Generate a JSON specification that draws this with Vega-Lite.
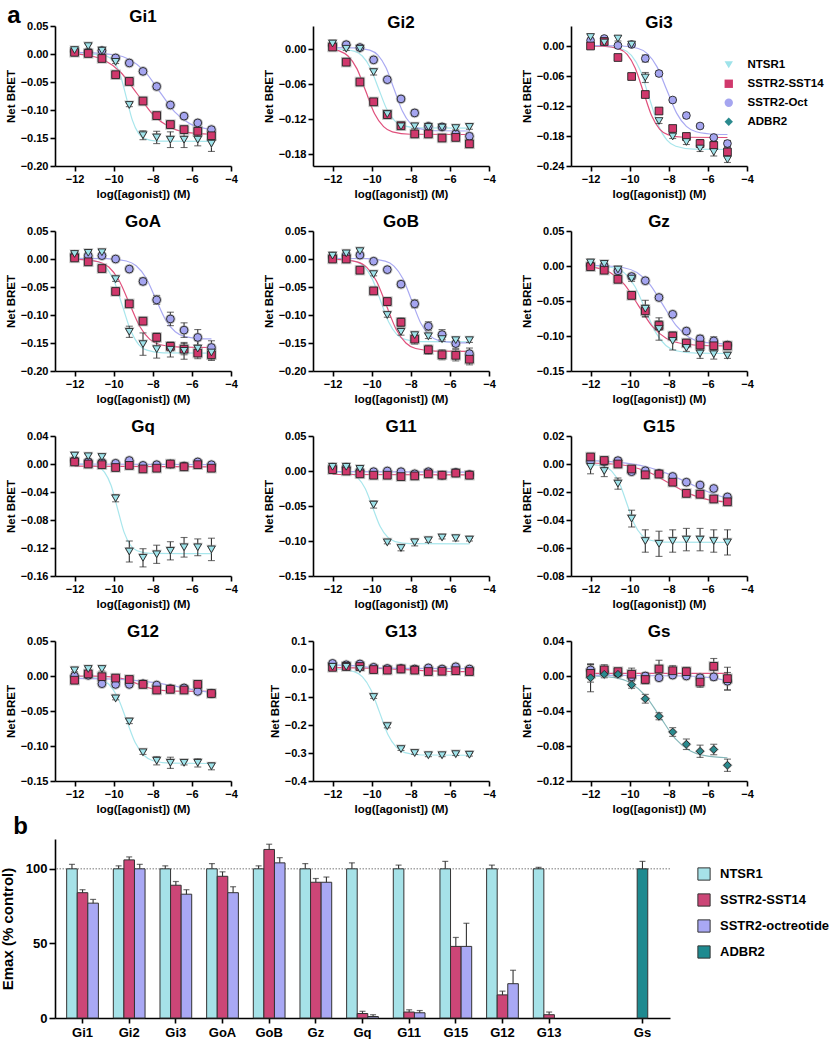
{
"$schema":"https://vega.github.io/schema/vega-lite/v6.json",
"padding":{"left":0,"top":4,"right":0,"bottom":0},
"config":{"font":"Liberation Sans","view":{"stroke":null},
"axis":{"labelFont":"Liberation Sans","labelFontWeight":"bold","labelFontSize":11,"labelColor":"#000","titleFont":"Liberation Sans","titleFontWeight":"bold","titleFontSize":11.5,"titleColor":"#000","domainColor":"#000","domainWidth":1.6,"tickColor":"#000","tickWidth":1.6,"tickSize":5,"grid":false,"labelPadding":2,"titlePadding":4,"labelFlush":false,"labelOverlap":false},
"title":{"font":"Liberation Sans","fontSize":17,"fontWeight":"bold","color":"#000","offset":-6},
"line":{"strokeWidth":1.2,"interpolate":"monotone"}},
"data":{"values":[
{"p":"Gi1","s":"NTSR1","c":1,"x":-12,"y":0},{"p":"Gi1","s":"NTSR1","c":1,"x":-10.91,"y":-0.0005},{"p":"Gi1","s":"NTSR1","c":1,"x":-10.29,"y":-0.0048},{"p":"Gi1","s":"NTSR1","c":1,"x":-9.98,"y":-0.0142},{"p":"Gi1","s":"NTSR1","c":1,"x":-9.66,"y":-0.0374},{"p":"Gi1","s":"NTSR1","c":1,"x":-9.35,"y":-0.078},{"p":"Gi1","s":"NTSR1","c":1,"x":-9.04,"y":-0.1186},{"p":"Gi1","s":"NTSR1","c":1,"x":-8.73,"y":-0.1418},{"p":"Gi1","s":"NTSR1","c":1,"x":-8.41,"y":-0.1512},{"p":"Gi1","s":"NTSR1","c":1,"x":-7.79,"y":-0.1555},{"p":"Gi1","s":"NTSR1","c":1,"x":-5,"y":-0.156},
{"p":"Gi1","s":"SSTR2-SST14","c":1,"x":-12,"y":0.0002},{"p":"Gi1","s":"SSTR2-SST14","c":1,"x":-11.3,"y":-0.0025},{"p":"Gi1","s":"SSTR2-SST14","c":1,"x":-10.47,"y":-0.0113},{"p":"Gi1","s":"SSTR2-SST14","c":1,"x":-9.63,"y":-0.033},{"p":"Gi1","s":"SSTR2-SST14","c":1,"x":-8.8,"y":-0.071},{"p":"Gi1","s":"SSTR2-SST14","c":1,"x":-7.97,"y":-0.109},{"p":"Gi1","s":"SSTR2-SST14","c":1,"x":-7.13,"y":-0.1307},{"p":"Gi1","s":"SSTR2-SST14","c":1,"x":-6.3,"y":-0.1395},{"p":"Gi1","s":"SSTR2-SST14","c":1,"x":-5,"y":-0.1433},
{"p":"Gi1","s":"SSTR2-Oct","c":1,"x":-12,"y":0.0028},{"p":"Gi1","s":"SSTR2-Oct","c":1,"x":-11.5,"y":0.0026},{"p":"Gi1","s":"SSTR2-Oct","c":1,"x":-9.96,"y":-0.0013},{"p":"Gi1","s":"SSTR2-Oct","c":1,"x":-9.19,"y":-0.0097},{"p":"Gi1","s":"SSTR2-Oct","c":1,"x":-8.42,"y":-0.0306},{"p":"Gi1","s":"SSTR2-Oct","c":1,"x":-7.65,"y":-0.067},{"p":"Gi1","s":"SSTR2-Oct","c":1,"x":-6.88,"y":-0.1034},{"p":"Gi1","s":"SSTR2-Oct","c":1,"x":-6.11,"y":-0.1243},{"p":"Gi1","s":"SSTR2-Oct","c":1,"x":-5.34,"y":-0.1327},{"p":"Gi1","s":"SSTR2-Oct","c":1,"x":-5,"y":-0.1343},
{"p":"Gi2","s":"NTSR1","c":1,"x":-12,"y":0.001},{"p":"Gi2","s":"NTSR1","c":1,"x":-11.73,"y":0.0006},{"p":"Gi2","s":"NTSR1","c":1,"x":-10.9,"y":-0.0032},{"p":"Gi2","s":"NTSR1","c":1,"x":-10.48,"y":-0.0114},{"p":"Gi2","s":"NTSR1","c":1,"x":-10.07,"y":-0.0316},{"p":"Gi2","s":"NTSR1","c":1,"x":-9.65,"y":-0.067},{"p":"Gi2","s":"NTSR1","c":1,"x":-9.23,"y":-0.1024},{"p":"Gi2","s":"NTSR1","c":1,"x":-8.82,"y":-0.1226},{"p":"Gi2","s":"NTSR1","c":1,"x":-8.4,"y":-0.1308},{"p":"Gi2","s":"NTSR1","c":1,"x":-7.57,"y":-0.1346},{"p":"Gi2","s":"NTSR1","c":1,"x":-5,"y":-0.135},
{"p":"Gi2","s":"SSTR2-SST14","c":1,"x":-12,"y":0},{"p":"Gi2","s":"SSTR2-SST14","c":1,"x":-11.66,"y":-0.0026},{"p":"Gi2","s":"SSTR2-SST14","c":1,"x":-11.21,"y":-0.0115},{"p":"Gi2","s":"SSTR2-SST14","c":1,"x":-10.75,"y":-0.0335},{"p":"Gi2","s":"SSTR2-SST14","c":1,"x":-10.3,"y":-0.072},{"p":"Gi2","s":"SSTR2-SST14","c":1,"x":-9.85,"y":-0.1105},{"p":"Gi2","s":"SSTR2-SST14","c":1,"x":-9.39,"y":-0.1325},{"p":"Gi2","s":"SSTR2-SST14","c":1,"x":-8.94,"y":-0.1414},{"p":"Gi2","s":"SSTR2-SST14","c":1,"x":-8.03,"y":-0.1456},{"p":"Gi2","s":"SSTR2-SST14","c":1,"x":-5,"y":-0.146},
{"p":"Gi2","s":"SSTR2-Oct","c":1,"x":-12,"y":0.003},{"p":"Gi2","s":"SSTR2-Oct","c":1,"x":-10.93,"y":0.0026},{"p":"Gi2","s":"SSTR2-Oct","c":1,"x":-10.1,"y":-0.0014},{"p":"Gi2","s":"SSTR2-Oct","c":1,"x":-9.68,"y":-0.01},{"p":"Gi2","s":"SSTR2-Oct","c":1,"x":-9.27,"y":-0.0313},{"p":"Gi2","s":"SSTR2-Oct","c":1,"x":-8.85,"y":-0.0685},{"p":"Gi2","s":"SSTR2-Oct","c":1,"x":-8.43,"y":-0.1057},{"p":"Gi2","s":"SSTR2-Oct","c":1,"x":-8.02,"y":-0.127},{"p":"Gi2","s":"SSTR2-Oct","c":1,"x":-7.6,"y":-0.1356},{"p":"Gi2","s":"SSTR2-Oct","c":1,"x":-6.77,"y":-0.1396},{"p":"Gi2","s":"SSTR2-Oct","c":1,"x":-5,"y":-0.14},
{"p":"Gi3","s":"NTSR1","c":1,"x":-12,"y":0},{"p":"Gi3","s":"NTSR1","c":1,"x":-11.27,"y":-0.0006},{"p":"Gi3","s":"NTSR1","c":1,"x":-10.36,"y":-0.0064},{"p":"Gi3","s":"NTSR1","c":1,"x":-9.91,"y":-0.0188},{"p":"Gi3","s":"NTSR1","c":1,"x":-9.45,"y":-0.0497},{"p":"Gi3","s":"NTSR1","c":1,"x":-9,"y":-0.1035},{"p":"Gi3","s":"NTSR1","c":1,"x":-8.55,"y":-0.1573},{"p":"Gi3","s":"NTSR1","c":1,"x":-8.09,"y":-0.1882},{"p":"Gi3","s":"NTSR1","c":1,"x":-7.64,"y":-0.2006},{"p":"Gi3","s":"NTSR1","c":1,"x":-6.73,"y":-0.2064},{"p":"Gi3","s":"NTSR1","c":1,"x":-5,"y":-0.207},
{"p":"Gi3","s":"SSTR2-SST14","c":1,"x":-12,"y":0},{"p":"Gi3","s":"SSTR2-SST14","c":1,"x":-11.38,"y":-0.0005},{"p":"Gi3","s":"SSTR2-SST14","c":1,"x":-10.55,"y":-0.0057},{"p":"Gi3","s":"SSTR2-SST14","c":1,"x":-10.13,"y":-0.0167},{"p":"Gi3","s":"SSTR2-SST14","c":1,"x":-9.72,"y":-0.0439},{"p":"Gi3","s":"SSTR2-SST14","c":1,"x":-9.3,"y":-0.0915},{"p":"Gi3","s":"SSTR2-SST14","c":1,"x":-8.88,"y":-0.1391},{"p":"Gi3","s":"SSTR2-SST14","c":1,"x":-8.47,"y":-0.1663},{"p":"Gi3","s":"SSTR2-SST14","c":1,"x":-8.05,"y":-0.1773},{"p":"Gi3","s":"SSTR2-SST14","c":1,"x":-7.22,"y":-0.1825},{"p":"Gi3","s":"SSTR2-SST14","c":1,"x":-5,"y":-0.183},
{"p":"Gi3","s":"SSTR2-Oct","c":1,"x":-12,"y":0.001},{"p":"Gi3","s":"SSTR2-Oct","c":1,"x":-10.6,"y":0.0005},{"p":"Gi3","s":"SSTR2-Oct","c":1,"x":-9.6,"y":-0.0045},{"p":"Gi3","s":"SSTR2-Oct","c":1,"x":-9.1,"y":-0.0152},{"p":"Gi3","s":"SSTR2-Oct","c":1,"x":-8.6,"y":-0.0417},{"p":"Gi3","s":"SSTR2-Oct","c":1,"x":-8.1,"y":-0.088},{"p":"Gi3","s":"SSTR2-Oct","c":1,"x":-7.6,"y":-0.1343},{"p":"Gi3","s":"SSTR2-Oct","c":1,"x":-7.1,"y":-0.1608},{"p":"Gi3","s":"SSTR2-Oct","c":1,"x":-6.6,"y":-0.1715},{"p":"Gi3","s":"SSTR2-Oct","c":1,"x":-5.6,"y":-0.1765},{"p":"Gi3","s":"SSTR2-Oct","c":1,"x":-5,"y":-0.177},
{"p":"GoA","s":"NTSR1","c":1,"x":-12,"y":0},{"p":"GoA","s":"NTSR1","c":1,"x":-11.63,"y":-0.0005},{"p":"GoA","s":"NTSR1","c":1,"x":-10.8,"y":-0.0052},{"p":"GoA","s":"NTSR1","c":1,"x":-10.38,"y":-0.0153},{"p":"GoA","s":"NTSR1","c":1,"x":-9.97,"y":-0.0403},{"p":"GoA","s":"NTSR1","c":1,"x":-9.55,"y":-0.084},{"p":"GoA","s":"NTSR1","c":1,"x":-9.13,"y":-0.1277},{"p":"GoA","s":"NTSR1","c":1,"x":-8.72,"y":-0.1527},{"p":"GoA","s":"NTSR1","c":1,"x":-8.3,"y":-0.1628},{"p":"GoA","s":"NTSR1","c":1,"x":-7.47,"y":-0.1675},{"p":"GoA","s":"NTSR1","c":1,"x":-5,"y":-0.168},
{"p":"GoA","s":"SSTR2-SST14","c":1,"x":-12,"y":-0.0003},{"p":"GoA","s":"SSTR2-SST14","c":1,"x":-10.78,"y":-0.0049},{"p":"GoA","s":"SSTR2-SST14","c":1,"x":-10.25,"y":-0.0144},{"p":"GoA","s":"SSTR2-SST14","c":1,"x":-9.73,"y":-0.0379},{"p":"GoA","s":"SSTR2-SST14","c":1,"x":-9.2,"y":-0.079},{"p":"GoA","s":"SSTR2-SST14","c":1,"x":-8.67,"y":-0.1201},{"p":"GoA","s":"SSTR2-SST14","c":1,"x":-8.15,"y":-0.1436},{"p":"GoA","s":"SSTR2-SST14","c":1,"x":-7.62,"y":-0.1531},{"p":"GoA","s":"SSTR2-SST14","c":1,"x":-6.57,"y":-0.1575},{"p":"GoA","s":"SSTR2-SST14","c":1,"x":-5,"y":-0.158},
{"p":"GoA","s":"SSTR2-Oct","c":1,"x":-12,"y":0.001},{"p":"GoA","s":"SSTR2-Oct","c":1,"x":-10.35,"y":0.0006},{"p":"GoA","s":"SSTR2-Oct","c":1,"x":-9.35,"y":-0.0035},{"p":"GoA","s":"SSTR2-Oct","c":1,"x":-8.85,"y":-0.0121},{"p":"GoA","s":"SSTR2-Oct","c":1,"x":-8.35,"y":-0.0336},{"p":"GoA","s":"SSTR2-Oct","c":1,"x":-7.85,"y":-0.071},{"p":"GoA","s":"SSTR2-Oct","c":1,"x":-7.35,"y":-0.1084},{"p":"GoA","s":"SSTR2-Oct","c":1,"x":-6.85,"y":-0.1299},{"p":"GoA","s":"SSTR2-Oct","c":1,"x":-6.35,"y":-0.1385},{"p":"GoA","s":"SSTR2-Oct","c":1,"x":-5.35,"y":-0.1426},{"p":"GoA","s":"SSTR2-Oct","c":1,"x":-5,"y":-0.1428},
{"p":"GoB","s":"NTSR1","c":1,"x":-12,"y":0},{"p":"GoB","s":"NTSR1","c":1,"x":-11.63,"y":-0.0004},{"p":"GoB","s":"NTSR1","c":1,"x":-10.8,"y":-0.0046},{"p":"GoB","s":"NTSR1","c":1,"x":-10.38,"y":-0.0135},{"p":"GoB","s":"NTSR1","c":1,"x":-9.97,"y":-0.0355},{"p":"GoB","s":"NTSR1","c":1,"x":-9.55,"y":-0.074},{"p":"GoB","s":"NTSR1","c":1,"x":-9.13,"y":-0.1125},{"p":"GoB","s":"NTSR1","c":1,"x":-8.72,"y":-0.1345},{"p":"GoB","s":"NTSR1","c":1,"x":-8.3,"y":-0.1434},{"p":"GoB","s":"NTSR1","c":1,"x":-7.47,"y":-0.1476},{"p":"GoB","s":"NTSR1","c":1,"x":-5,"y":-0.148},
{"p":"GoB","s":"SSTR2-SST14","c":1,"x":-12,"y":-0.0003},{"p":"GoB","s":"SSTR2-SST14","c":1,"x":-10.75,"y":-0.0051},{"p":"GoB","s":"SSTR2-SST14","c":1,"x":-10.25,"y":-0.015},{"p":"GoB","s":"SSTR2-SST14","c":1,"x":-9.75,"y":-0.0396},{"p":"GoB","s":"SSTR2-SST14","c":1,"x":-9.25,"y":-0.0825},{"p":"GoB","s":"SSTR2-SST14","c":1,"x":-8.75,"y":-0.1254},{"p":"GoB","s":"SSTR2-SST14","c":1,"x":-8.25,"y":-0.15},{"p":"GoB","s":"SSTR2-SST14","c":1,"x":-7.75,"y":-0.1599},{"p":"GoB","s":"SSTR2-SST14","c":1,"x":-6.75,"y":-0.1645},{"p":"GoB","s":"SSTR2-SST14","c":1,"x":-5,"y":-0.165},
{"p":"GoB","s":"SSTR2-Oct","c":1,"x":-12,"y":0.001},{"p":"GoB","s":"SSTR2-Oct","c":1,"x":-10.22,"y":0.0005},{"p":"GoB","s":"SSTR2-Oct","c":1,"x":-9.31,"y":-0.0037},{"p":"GoB","s":"SSTR2-Oct","c":1,"x":-8.86,"y":-0.0127},{"p":"GoB","s":"SSTR2-Oct","c":1,"x":-8.4,"y":-0.0352},{"p":"GoB","s":"SSTR2-Oct","c":1,"x":-7.95,"y":-0.0745},{"p":"GoB","s":"SSTR2-Oct","c":1,"x":-7.5,"y":-0.1138},{"p":"GoB","s":"SSTR2-Oct","c":1,"x":-7.04,"y":-0.1363},{"p":"GoB","s":"SSTR2-Oct","c":1,"x":-6.59,"y":-0.1453},{"p":"GoB","s":"SSTR2-Oct","c":1,"x":-5.68,"y":-0.1495},{"p":"GoB","s":"SSTR2-Oct","c":1,"x":-5,"y":-0.1499},
{"p":"Gz","s":"NTSR1","c":1,"x":-12,"y":0.0007},{"p":"Gz","s":"NTSR1","c":1,"x":-10.78,"y":-0.0029},{"p":"Gz","s":"NTSR1","c":1,"x":-10.25,"y":-0.0105},{"p":"Gz","s":"NTSR1","c":1,"x":-9.73,"y":-0.0292},{"p":"Gz","s":"NTSR1","c":1,"x":-9.2,"y":-0.062},{"p":"Gz","s":"NTSR1","c":1,"x":-8.67,"y":-0.0948},{"p":"Gz","s":"NTSR1","c":1,"x":-8.15,"y":-0.1135},{"p":"Gz","s":"NTSR1","c":1,"x":-7.62,"y":-0.1211},{"p":"Gz","s":"NTSR1","c":1,"x":-6.57,"y":-0.1246},{"p":"Gz","s":"NTSR1","c":1,"x":-5,"y":-0.125},
{"p":"Gz","s":"SSTR2-SST14","c":1,"x":-12,"y":-0.0012},{"p":"Gz","s":"SSTR2-SST14","c":1,"x":-11.69,"y":-0.0026},{"p":"Gz","s":"SSTR2-SST14","c":1,"x":-10.98,"y":-0.0095},{"p":"Gz","s":"SSTR2-SST14","c":1,"x":-10.26,"y":-0.0266},{"p":"Gz","s":"SSTR2-SST14","c":1,"x":-9.55,"y":-0.0565},{"p":"Gz","s":"SSTR2-SST14","c":1,"x":-8.84,"y":-0.0864},{"p":"Gz","s":"SSTR2-SST14","c":1,"x":-8.12,"y":-0.1035},{"p":"Gz","s":"SSTR2-SST14","c":1,"x":-7.41,"y":-0.1104},{"p":"Gz","s":"SSTR2-SST14","c":1,"x":-5.98,"y":-0.1139},{"p":"Gz","s":"SSTR2-SST14","c":1,"x":-5,"y":-0.114},
{"p":"Gz","s":"SSTR2-Oct","c":1,"x":-12,"y":0.0008},{"p":"Gz","s":"SSTR2-Oct","c":1,"x":-11.63,"y":0.0007},{"p":"Gz","s":"SSTR2-Oct","c":1,"x":-10.3,"y":-0.0025},{"p":"Gz","s":"SSTR2-Oct","c":1,"x":-9.63,"y":-0.0093},{"p":"Gz","s":"SSTR2-Oct","c":1,"x":-8.97,"y":-0.0261},{"p":"Gz","s":"SSTR2-Oct","c":1,"x":-8.3,"y":-0.0555},{"p":"Gz","s":"SSTR2-Oct","c":1,"x":-7.63,"y":-0.0849},{"p":"Gz","s":"SSTR2-Oct","c":1,"x":-6.97,"y":-0.1017},{"p":"Gz","s":"SSTR2-Oct","c":1,"x":-6.3,"y":-0.1085},{"p":"Gz","s":"SSTR2-Oct","c":1,"x":-5,"y":-0.1117},
{"p":"Gq","s":"NTSR1","c":1,"x":-12,"y":-0.0002},{"p":"Gq","s":"NTSR1","c":1,"x":-11.47,"y":-0.0004},{"p":"Gq","s":"NTSR1","c":1,"x":-10.8,"y":-0.004},{"p":"Gq","s":"NTSR1","c":1,"x":-10.47,"y":-0.0116},{"p":"Gq","s":"NTSR1","c":1,"x":-10.13,"y":-0.0307},{"p":"Gq","s":"NTSR1","c":1,"x":-9.8,"y":-0.064},{"p":"Gq","s":"NTSR1","c":1,"x":-9.47,"y":-0.0973},{"p":"Gq","s":"NTSR1","c":1,"x":-9.13,"y":-0.1164},{"p":"Gq","s":"NTSR1","c":1,"x":-8.8,"y":-0.124},{"p":"Gq","s":"NTSR1","c":1,"x":-8.13,"y":-0.1276},{"p":"Gq","s":"NTSR1","c":1,"x":-5,"y":-0.128},
{"p":"Gq","s":"SSTR2-SST14","c":1,"x":-12,"y":-0.003},{"p":"Gq","s":"SSTR2-SST14","c":1,"x":-5,"y":-0.004},
{"p":"Gq","s":"SSTR2-Oct","c":1,"x":-12,"y":0},{"p":"Gq","s":"SSTR2-Oct","c":1,"x":-5,"y":-0.001},
{"p":"G11","s":"NTSR1","c":1,"x":-12,"y":-0.0004},{"p":"G11","s":"NTSR1","c":1,"x":-11.1,"y":-0.0032},{"p":"G11","s":"NTSR1","c":1,"x":-10.72,"y":-0.0095},{"p":"G11","s":"NTSR1","c":1,"x":-10.33,"y":-0.025},{"p":"G11","s":"NTSR1","c":1,"x":-9.95,"y":-0.052},{"p":"G11","s":"NTSR1","c":1,"x":-9.57,"y":-0.079},{"p":"G11","s":"NTSR1","c":1,"x":-9.18,"y":-0.0945},{"p":"G11","s":"NTSR1","c":1,"x":-8.8,"y":-0.1008},{"p":"G11","s":"NTSR1","c":1,"x":-8.03,"y":-0.1037},{"p":"G11","s":"NTSR1","c":1,"x":-5,"y":-0.104},
{"p":"G11","s":"SSTR2-SST14","c":1,"x":-12,"y":-0.005},{"p":"G11","s":"SSTR2-SST14","c":1,"x":-5,"y":-0.0055},
{"p":"G11","s":"SSTR2-Oct","c":1,"x":-12,"y":-0.001},{"p":"G11","s":"SSTR2-Oct","c":1,"x":-5,"y":-0.0015},
{"p":"G15","s":"NTSR1","c":1,"x":-12,"y":-0.0002},{"p":"G15","s":"NTSR1","c":1,"x":-11.3,"y":-0.0017},{"p":"G15","s":"NTSR1","c":1,"x":-10.92,"y":-0.0051},{"p":"G15","s":"NTSR1","c":1,"x":-10.53,"y":-0.0134},{"p":"G15","s":"NTSR1","c":1,"x":-10.15,"y":-0.028},{"p":"G15","s":"NTSR1","c":1,"x":-9.77,"y":-0.0426},{"p":"G15","s":"NTSR1","c":1,"x":-9.38,"y":-0.0509},{"p":"G15","s":"NTSR1","c":1,"x":-9,"y":-0.0543},{"p":"G15","s":"NTSR1","c":1,"x":-8.23,"y":-0.0558},{"p":"G15","s":"NTSR1","c":1,"x":-5,"y":-0.056},
{"p":"G15","s":"SSTR2-SST14","c":1,"x":-12,"y":0.0007},{"p":"G15","s":"SSTR2-SST14","c":1,"x":-11,"y":0.0001},{"p":"G15","s":"SSTR2-SST14","c":1,"x":-10,"y":-0.0016},{"p":"G15","s":"SSTR2-SST14","c":1,"x":-9,"y":-0.006},{"p":"G15","s":"SSTR2-SST14","c":1,"x":-8,"y":-0.0135},{"p":"G15","s":"SSTR2-SST14","c":1,"x":-7,"y":-0.021},{"p":"G15","s":"SSTR2-SST14","c":1,"x":-6,"y":-0.0254},{"p":"G15","s":"SSTR2-SST14","c":1,"x":-5,"y":-0.0271},
{"p":"G15","s":"SSTR2-Oct","c":1,"x":-12,"y":0.0024},{"p":"G15","s":"SSTR2-Oct","c":1,"x":-11,"y":0.0017},{"p":"G15","s":"SSTR2-Oct","c":1,"x":-10,"y":0.0003},{"p":"G15","s":"SSTR2-Oct","c":1,"x":-9,"y":-0.0025},{"p":"G15","s":"SSTR2-Oct","c":1,"x":-8,"y":-0.0072},{"p":"G15","s":"SSTR2-Oct","c":1,"x":-7,"y":-0.0135},{"p":"G15","s":"SSTR2-Oct","c":1,"x":-6,"y":-0.0198},{"p":"G15","s":"SSTR2-Oct","c":1,"x":-5,"y":-0.0245},
{"p":"G12","s":"NTSR1","c":1,"x":-12,"y":-0.0002},{"p":"G12","s":"NTSR1","c":1,"x":-10.71,"y":-0.0039},{"p":"G12","s":"NTSR1","c":1,"x":-10.26,"y":-0.0114},{"p":"G12","s":"NTSR1","c":1,"x":-9.8,"y":-0.03},{"p":"G12","s":"NTSR1","c":1,"x":-9.35,"y":-0.0625},{"p":"G12","s":"NTSR1","c":1,"x":-8.9,"y":-0.095},{"p":"G12","s":"NTSR1","c":1,"x":-8.44,"y":-0.1136},{"p":"G12","s":"NTSR1","c":1,"x":-7.99,"y":-0.1211},{"p":"G12","s":"NTSR1","c":1,"x":-7.08,"y":-0.1246},{"p":"G12","s":"NTSR1","c":1,"x":-5,"y":-0.125},
{"p":"G12","s":"SSTR2-SST14","c":1,"x":-12,"y":0},{"p":"G12","s":"SSTR2-SST14","c":1,"x":-11,"y":-0.0002},{"p":"G12","s":"SSTR2-SST14","c":1,"x":-10,"y":-0.0017},{"p":"G12","s":"SSTR2-SST14","c":1,"x":-9.5,"y":-0.0042},{"p":"G12","s":"SSTR2-SST14","c":1,"x":-9,"y":-0.0088},{"p":"G12","s":"SSTR2-SST14","c":1,"x":-8.5,"y":-0.0143},{"p":"G12","s":"SSTR2-SST14","c":1,"x":-8,"y":-0.0185},{"p":"G12","s":"SSTR2-SST14","c":1,"x":-7,"y":-0.0215},{"p":"G12","s":"SSTR2-SST14","c":1,"x":-5,"y":-0.022},
{"p":"G12","s":"SSTR2-Oct","c":1,"x":-12,"y":-0.0033},{"p":"G12","s":"SSTR2-Oct","c":1,"x":-10,"y":-0.0045},{"p":"G12","s":"SSTR2-Oct","c":1,"x":-8,"y":-0.0092},{"p":"G12","s":"SSTR2-Oct","c":1,"x":-7,"y":-0.0138},{"p":"G12","s":"SSTR2-Oct","c":1,"x":-6,"y":-0.0192},{"p":"G12","s":"SSTR2-Oct","c":1,"x":-5,"y":-0.0238},
{"p":"G13","s":"NTSR1","c":1,"x":-12,"y":-0.0005},{"p":"G13","s":"NTSR1","c":1,"x":-11.77,"y":-0.0009},{"p":"G13","s":"NTSR1","c":1,"x":-10.9,"y":-0.0095},{"p":"G13","s":"NTSR1","c":1,"x":-10.47,"y":-0.028},{"p":"G13","s":"NTSR1","c":1,"x":-10.04,"y":-0.0739},{"p":"G13","s":"NTSR1","c":1,"x":-9.6,"y":-0.154},{"p":"G13","s":"NTSR1","c":1,"x":-9.17,"y":-0.2341},{"p":"G13","s":"NTSR1","c":1,"x":-8.73,"y":-0.28},{"p":"G13","s":"NTSR1","c":1,"x":-8.3,"y":-0.2985},{"p":"G13","s":"NTSR1","c":1,"x":-7.43,"y":-0.3071},{"p":"G13","s":"NTSR1","c":1,"x":-5,"y":-0.308},
{"p":"G13","s":"SSTR2-SST14","c":1,"x":-12,"y":0.005},{"p":"G13","s":"SSTR2-SST14","c":1,"x":-10,"y":0.003},{"p":"G13","s":"SSTR2-SST14","c":1,"x":-9,"y":0},{"p":"G13","s":"SSTR2-SST14","c":1,"x":-8,"y":-0.003},{"p":"G13","s":"SSTR2-SST14","c":1,"x":-7,"y":-0.007},{"p":"G13","s":"SSTR2-SST14","c":1,"x":-6,"y":-0.009},{"p":"G13","s":"SSTR2-SST14","c":1,"x":-5,"y":-0.0095},
{"p":"G13","s":"SSTR2-Oct","c":1,"x":-12,"y":0.015},{"p":"G13","s":"SSTR2-Oct","c":1,"x":-11,"y":0.012},{"p":"G13","s":"SSTR2-Oct","c":1,"x":-10,"y":0.006},{"p":"G13","s":"SSTR2-Oct","c":1,"x":-9,"y":0.003},{"p":"G13","s":"SSTR2-Oct","c":1,"x":-8,"y":0.002},{"p":"G13","s":"SSTR2-Oct","c":1,"x":-5,"y":0.001},
{"p":"Gs","s":"ADBR2","c":1,"x":-12,"y":0.0005},{"p":"Gs","s":"ADBR2","c":1,"x":-10.76,"y":-0.0019},{"p":"Gs","s":"ADBR2","c":1,"x":-9.99,"y":-0.0076},{"p":"Gs","s":"ADBR2","c":1,"x":-9.22,"y":-0.0218},{"p":"Gs","s":"ADBR2","c":1,"x":-8.45,"y":-0.0465},{"p":"Gs","s":"ADBR2","c":1,"x":-7.68,"y":-0.0712},{"p":"Gs","s":"ADBR2","c":1,"x":-6.91,"y":-0.0854},{"p":"Gs","s":"ADBR2","c":1,"x":-6.14,"y":-0.0911},{"p":"Gs","s":"ADBR2","c":1,"x":-5,"y":-0.0934},
{"p":"Gs","s":"SSTR2-SST14","c":1,"x":-12,"y":0.003},{"p":"Gs","s":"SSTR2-SST14","c":1,"x":-5,"y":0.003},
{"p":"Gs","s":"SSTR2-Oct","c":1,"x":-12,"y":0.001},{"p":"Gs","s":"SSTR2-Oct","c":1,"x":-7,"y":0},{"p":"Gs","s":"SSTR2-Oct","c":1,"x":-6,"y":-0.0015},{"p":"Gs","s":"SSTR2-Oct","c":1,"x":-5.5,"y":-0.003},{"p":"Gs","s":"SSTR2-Oct","c":1,"x":-5,"y":-0.006},

{"p":"Gi1","s":"SSTR2-Oct","x":-12,"y":0.005,"e":0.003},{"p":"Gi1","s":"SSTR2-Oct","x":-11.3,"y":0.003,"e":0.002},{"p":"Gi1","s":"SSTR2-Oct","x":-10.6,"y":0.006,"e":0.003},{"p":"Gi1","s":"SSTR2-Oct","x":-9.9,"y":-0.007,"e":0.003},{"p":"Gi1","s":"SSTR2-Oct","x":-9.2,"y":-0.016,"e":0.004},{"p":"Gi1","s":"SSTR2-Oct","x":-8.5,"y":-0.031,"e":0.004},{"p":"Gi1","s":"SSTR2-Oct","x":-7.8,"y":-0.058,"e":0.004},{"p":"Gi1","s":"SSTR2-Oct","x":-7.1,"y":-0.091,"e":0.004},{"p":"Gi1","s":"SSTR2-Oct","x":-6.4,"y":-0.111,"e":0.003},{"p":"Gi1","s":"SSTR2-Oct","x":-5.7,"y":-0.123,"e":0.003},{"p":"Gi1","s":"SSTR2-Oct","x":-5,"y":-0.135,"e":0.005},
{"p":"Gi1","s":"SSTR2-SST14","x":-12,"y":0.003,"e":0.002},{"p":"Gi1","s":"SSTR2-SST14","x":-11.3,"y":0.001,"e":0.002},{"p":"Gi1","s":"SSTR2-SST14","x":-10.6,"y":-0.008,"e":0.003},{"p":"Gi1","s":"SSTR2-SST14","x":-9.9,"y":-0.037,"e":0.003},{"p":"Gi1","s":"SSTR2-SST14","x":-9.2,"y":-0.049,"e":0.003},{"p":"Gi1","s":"SSTR2-SST14","x":-8.5,"y":-0.084,"e":0.003},{"p":"Gi1","s":"SSTR2-SST14","x":-7.8,"y":-0.11,"e":0.003},{"p":"Gi1","s":"SSTR2-SST14","x":-7.1,"y":-0.126,"e":0.003},{"p":"Gi1","s":"SSTR2-SST14","x":-6.4,"y":-0.135,"e":0.005},{"p":"Gi1","s":"SSTR2-SST14","x":-5.7,"y":-0.138,"e":0.004},{"p":"Gi1","s":"SSTR2-SST14","x":-5,"y":-0.146,"e":0.006},
{"p":"Gi1","s":"NTSR1","x":-12,"y":0.007,"e":0.003},{"p":"Gi1","s":"NTSR1","x":-11.3,"y":0.014,"e":0.004},{"p":"Gi1","s":"NTSR1","x":-10.6,"y":0.006,"e":0.003},{"p":"Gi1","s":"NTSR1","x":-9.9,"y":-0.014,"e":0.003},{"p":"Gi1","s":"NTSR1","x":-9.2,"y":-0.091,"e":0.003},{"p":"Gi1","s":"NTSR1","x":-8.5,"y":-0.145,"e":0.008},{"p":"Gi1","s":"NTSR1","x":-7.8,"y":-0.149,"e":0.011},{"p":"Gi1","s":"NTSR1","x":-7.1,"y":-0.153,"e":0.014},{"p":"Gi1","s":"NTSR1","x":-6.4,"y":-0.153,"e":0.014},{"p":"Gi1","s":"NTSR1","x":-5.7,"y":-0.153,"e":0.011},{"p":"Gi1","s":"NTSR1","x":-5,"y":-0.16,"e":0.014},
{"p":"Gi2","s":"SSTR2-Oct","x":-12,"y":0.007,"e":0.003},{"p":"Gi2","s":"SSTR2-Oct","x":-11.3,"y":0.008,"e":0.003},{"p":"Gi2","s":"SSTR2-Oct","x":-10.6,"y":0.003,"e":0.003},{"p":"Gi2","s":"SSTR2-Oct","x":-9.9,"y":-0.018,"e":0.003},{"p":"Gi2","s":"SSTR2-Oct","x":-9.2,"y":-0.052,"e":0.003},{"p":"Gi2","s":"SSTR2-Oct","x":-8.5,"y":-0.085,"e":0.004},{"p":"Gi2","s":"SSTR2-Oct","x":-7.8,"y":-0.109,"e":0.005},{"p":"Gi2","s":"SSTR2-Oct","x":-7.1,"y":-0.132,"e":0.004},{"p":"Gi2","s":"SSTR2-Oct","x":-6.4,"y":-0.133,"e":0.004},{"p":"Gi2","s":"SSTR2-Oct","x":-5.7,"y":-0.145,"e":0.004},{"p":"Gi2","s":"SSTR2-Oct","x":-5,"y":-0.149,"e":0.005},
{"p":"Gi2","s":"SSTR2-SST14","x":-12,"y":0.004,"e":0.003},{"p":"Gi2","s":"SSTR2-SST14","x":-11.3,"y":-0.022,"e":0.003},{"p":"Gi2","s":"SSTR2-SST14","x":-10.6,"y":-0.056,"e":0.003},{"p":"Gi2","s":"SSTR2-SST14","x":-9.9,"y":-0.09,"e":0.003},{"p":"Gi2","s":"SSTR2-SST14","x":-9.2,"y":-0.112,"e":0.004},{"p":"Gi2","s":"SSTR2-SST14","x":-8.5,"y":-0.131,"e":0.003},{"p":"Gi2","s":"SSTR2-SST14","x":-7.8,"y":-0.145,"e":0.005},{"p":"Gi2","s":"SSTR2-SST14","x":-7.1,"y":-0.145,"e":0.004},{"p":"Gi2","s":"SSTR2-SST14","x":-6.4,"y":-0.152,"e":0.005},{"p":"Gi2","s":"SSTR2-SST14","x":-5.7,"y":-0.151,"e":0.005},{"p":"Gi2","s":"SSTR2-SST14","x":-5,"y":-0.162,"e":0.006},
{"p":"Gi2","s":"NTSR1","x":-12,"y":0.01,"e":0.004},{"p":"Gi2","s":"NTSR1","x":-11.3,"y":0.001,"e":0.003},{"p":"Gi2","s":"NTSR1","x":-10.6,"y":0.001,"e":0.003},{"p":"Gi2","s":"NTSR1","x":-9.9,"y":-0.039,"e":0.005},{"p":"Gi2","s":"NTSR1","x":-9.2,"y":-0.111,"e":0.004},{"p":"Gi2","s":"NTSR1","x":-8.5,"y":-0.132,"e":0.003},{"p":"Gi2","s":"NTSR1","x":-7.8,"y":-0.132,"e":0.004},{"p":"Gi2","s":"NTSR1","x":-7.1,"y":-0.133,"e":0.003},{"p":"Gi2","s":"NTSR1","x":-6.4,"y":-0.134,"e":0.004},{"p":"Gi2","s":"NTSR1","x":-5.7,"y":-0.135,"e":0.003},{"p":"Gi2","s":"NTSR1","x":-5,"y":-0.133,"e":0.004},
{"p":"Gi3","s":"SSTR2-Oct","x":-12,"y":0.011,"e":0.004},{"p":"Gi3","s":"SSTR2-Oct","x":-11.3,"y":0.015,"e":0.003},{"p":"Gi3","s":"SSTR2-Oct","x":-10.6,"y":0.001,"e":0.004},{"p":"Gi3","s":"SSTR2-Oct","x":-9.9,"y":0.003,"e":0.004},{"p":"Gi3","s":"SSTR2-Oct","x":-9.2,"y":-0.025,"e":0.007},{"p":"Gi3","s":"SSTR2-Oct","x":-8.5,"y":-0.055,"e":0.005},{"p":"Gi3","s":"SSTR2-Oct","x":-7.8,"y":-0.108,"e":0.004},{"p":"Gi3","s":"SSTR2-Oct","x":-7.1,"y":-0.139,"e":0.005},{"p":"Gi3","s":"SSTR2-Oct","x":-6.4,"y":-0.16,"e":0.004},{"p":"Gi3","s":"SSTR2-Oct","x":-5.7,"y":-0.183,"e":0.004},{"p":"Gi3","s":"SSTR2-Oct","x":-5,"y":-0.195,"e":0.006},
{"p":"Gi3","s":"SSTR2-SST14","x":-12,"y":0,"e":0.003},{"p":"Gi3","s":"SSTR2-SST14","x":-11.3,"y":0.009,"e":0.004},{"p":"Gi3","s":"SSTR2-SST14","x":-10.6,"y":-0.023,"e":0.004},{"p":"Gi3","s":"SSTR2-SST14","x":-9.9,"y":-0.061,"e":0.006},{"p":"Gi3","s":"SSTR2-SST14","x":-9.2,"y":-0.097,"e":0.004},{"p":"Gi3","s":"SSTR2-SST14","x":-8.5,"y":-0.13,"e":0.006},{"p":"Gi3","s":"SSTR2-SST14","x":-7.8,"y":-0.165,"e":0.005},{"p":"Gi3","s":"SSTR2-SST14","x":-7.1,"y":-0.181,"e":0.007},{"p":"Gi3","s":"SSTR2-SST14","x":-6.4,"y":-0.195,"e":0.008},{"p":"Gi3","s":"SSTR2-SST14","x":-5.7,"y":-0.199,"e":0.008},{"p":"Gi3","s":"SSTR2-SST14","x":-5,"y":-0.212,"e":0.009},
{"p":"Gi3","s":"NTSR1","x":-12,"y":0.018,"e":0.005},{"p":"Gi3","s":"NTSR1","x":-11.3,"y":0.007,"e":0.004},{"p":"Gi3","s":"NTSR1","x":-10.6,"y":0.015,"e":0.005},{"p":"Gi3","s":"NTSR1","x":-9.9,"y":0.003,"e":0.004},{"p":"Gi3","s":"NTSR1","x":-9.2,"y":-0.063,"e":0.01},{"p":"Gi3","s":"NTSR1","x":-8.5,"y":-0.15,"e":0.005},{"p":"Gi3","s":"NTSR1","x":-7.8,"y":-0.181,"e":0.004},{"p":"Gi3","s":"NTSR1","x":-7.1,"y":-0.192,"e":0.005},{"p":"Gi3","s":"NTSR1","x":-6.4,"y":-0.205,"e":0.006},{"p":"Gi3","s":"NTSR1","x":-5.7,"y":-0.212,"e":0.008},{"p":"Gi3","s":"NTSR1","x":-5,"y":-0.227,"e":0.006},
{"p":"GoA","s":"SSTR2-Oct","x":-12,"y":0.007,"e":0.003},{"p":"GoA","s":"SSTR2-Oct","x":-11.3,"y":0.006,"e":0.003},{"p":"GoA","s":"SSTR2-Oct","x":-10.6,"y":0.006,"e":0.004},{"p":"GoA","s":"SSTR2-Oct","x":-9.9,"y":0,"e":0.003},{"p":"GoA","s":"SSTR2-Oct","x":-9.2,"y":-0.018,"e":0.004},{"p":"GoA","s":"SSTR2-Oct","x":-8.5,"y":-0.04,"e":0.006},{"p":"GoA","s":"SSTR2-Oct","x":-7.8,"y":-0.073,"e":0.008},{"p":"GoA","s":"SSTR2-Oct","x":-7.1,"y":-0.107,"e":0.012},{"p":"GoA","s":"SSTR2-Oct","x":-6.4,"y":-0.127,"e":0.013},{"p":"GoA","s":"SSTR2-Oct","x":-5.7,"y":-0.14,"e":0.014},{"p":"GoA","s":"SSTR2-Oct","x":-5,"y":-0.158,"e":0.012},
{"p":"GoA","s":"SSTR2-SST14","x":-12,"y":0.002,"e":0.003},{"p":"GoA","s":"SSTR2-SST14","x":-11.3,"y":-0.005,"e":0.004},{"p":"GoA","s":"SSTR2-SST14","x":-10.6,"y":-0.017,"e":0.003},{"p":"GoA","s":"SSTR2-SST14","x":-9.9,"y":-0.058,"e":0.004},{"p":"GoA","s":"SSTR2-SST14","x":-9.2,"y":-0.08,"e":0.004},{"p":"GoA","s":"SSTR2-SST14","x":-8.5,"y":-0.111,"e":0.006},{"p":"GoA","s":"SSTR2-SST14","x":-7.8,"y":-0.14,"e":0.008},{"p":"GoA","s":"SSTR2-SST14","x":-7.1,"y":-0.156,"e":0.008},{"p":"GoA","s":"SSTR2-SST14","x":-6.4,"y":-0.161,"e":0.01},{"p":"GoA","s":"SSTR2-SST14","x":-5.7,"y":-0.168,"e":0.01},{"p":"GoA","s":"SSTR2-SST14","x":-5,"y":-0.171,"e":0.01},
{"p":"GoA","s":"NTSR1","x":-12,"y":0.009,"e":0.003},{"p":"GoA","s":"NTSR1","x":-11.3,"y":0.011,"e":0.003},{"p":"GoA","s":"NTSR1","x":-10.6,"y":0.012,"e":0.004},{"p":"GoA","s":"NTSR1","x":-9.9,"y":-0.036,"e":0.004},{"p":"GoA","s":"NTSR1","x":-9.2,"y":-0.13,"e":0.01},{"p":"GoA","s":"NTSR1","x":-8.5,"y":-0.152,"e":0.02},{"p":"GoA","s":"NTSR1","x":-7.8,"y":-0.161,"e":0.016},{"p":"GoA","s":"NTSR1","x":-7.1,"y":-0.162,"e":0.013},{"p":"GoA","s":"NTSR1","x":-6.4,"y":-0.164,"e":0.015},{"p":"GoA","s":"NTSR1","x":-5.7,"y":-0.16,"e":0.014},{"p":"GoA","s":"NTSR1","x":-5,"y":-0.167,"e":0.013},
{"p":"GoB","s":"SSTR2-Oct","x":-12,"y":0.004,"e":0.003},{"p":"GoB","s":"SSTR2-Oct","x":-11.3,"y":0.007,"e":0.003},{"p":"GoB","s":"SSTR2-Oct","x":-10.6,"y":0.007,"e":0.004},{"p":"GoB","s":"SSTR2-Oct","x":-9.9,"y":-0.004,"e":0.003},{"p":"GoB","s":"SSTR2-Oct","x":-9.2,"y":-0.019,"e":0.003},{"p":"GoB","s":"SSTR2-Oct","x":-8.5,"y":-0.045,"e":0.005},{"p":"GoB","s":"SSTR2-Oct","x":-7.8,"y":-0.08,"e":0.007},{"p":"GoB","s":"SSTR2-Oct","x":-7.1,"y":-0.12,"e":0.008},{"p":"GoB","s":"SSTR2-Oct","x":-6.4,"y":-0.135,"e":0.009},{"p":"GoB","s":"SSTR2-Oct","x":-5.7,"y":-0.151,"e":0.009},{"p":"GoB","s":"SSTR2-Oct","x":-5,"y":-0.169,"e":0.01},
{"p":"GoB","s":"SSTR2-SST14","x":-12,"y":0,"e":0.003},{"p":"GoB","s":"SSTR2-SST14","x":-11.3,"y":0,"e":0.003},{"p":"GoB","s":"SSTR2-SST14","x":-10.6,"y":-0.02,"e":0.003},{"p":"GoB","s":"SSTR2-SST14","x":-9.9,"y":-0.057,"e":0.005},{"p":"GoB","s":"SSTR2-SST14","x":-9.2,"y":-0.076,"e":0.007},{"p":"GoB","s":"SSTR2-SST14","x":-8.5,"y":-0.113,"e":0.008},{"p":"GoB","s":"SSTR2-SST14","x":-7.8,"y":-0.143,"e":0.009},{"p":"GoB","s":"SSTR2-SST14","x":-7.1,"y":-0.162,"e":0.008},{"p":"GoB","s":"SSTR2-SST14","x":-6.4,"y":-0.171,"e":0.009},{"p":"GoB","s":"SSTR2-SST14","x":-5.7,"y":-0.172,"e":0.01},{"p":"GoB","s":"SSTR2-SST14","x":-5,"y":-0.179,"e":0.01},
{"p":"GoB","s":"NTSR1","x":-12,"y":0.006,"e":0.003},{"p":"GoB","s":"NTSR1","x":-11.3,"y":0.01,"e":0.004},{"p":"GoB","s":"NTSR1","x":-10.6,"y":0.014,"e":0.005},{"p":"GoB","s":"NTSR1","x":-9.9,"y":-0.027,"e":0.003},{"p":"GoB","s":"NTSR1","x":-9.2,"y":-0.1,"e":0.004},{"p":"GoB","s":"NTSR1","x":-8.5,"y":-0.13,"e":0.006},{"p":"GoB","s":"NTSR1","x":-7.8,"y":-0.136,"e":0.005},{"p":"GoB","s":"NTSR1","x":-7.1,"y":-0.138,"e":0.004},{"p":"GoB","s":"NTSR1","x":-6.4,"y":-0.143,"e":0.004},{"p":"GoB","s":"NTSR1","x":-5.7,"y":-0.145,"e":0.004},{"p":"GoB","s":"NTSR1","x":-5,"y":-0.145,"e":0.004},
{"p":"Gz","s":"SSTR2-Oct","x":-12,"y":0.001,"e":0.003},{"p":"Gz","s":"SSTR2-Oct","x":-11.3,"y":0,"e":0.003},{"p":"Gz","s":"SSTR2-Oct","x":-10.6,"y":-0.007,"e":0.004},{"p":"Gz","s":"SSTR2-Oct","x":-9.9,"y":-0.015,"e":0.003},{"p":"Gz","s":"SSTR2-Oct","x":-9.2,"y":-0.021,"e":0.002},{"p":"Gz","s":"SSTR2-Oct","x":-8.5,"y":-0.045,"e":0.002},{"p":"Gz","s":"SSTR2-Oct","x":-7.8,"y":-0.069,"e":0.003},{"p":"Gz","s":"SSTR2-Oct","x":-7.1,"y":-0.093,"e":0.004},{"p":"Gz","s":"SSTR2-Oct","x":-6.4,"y":-0.104,"e":0.005},{"p":"Gz","s":"SSTR2-Oct","x":-5.7,"y":-0.107,"e":0.006},{"p":"Gz","s":"SSTR2-Oct","x":-5,"y":-0.113,"e":0.004},
{"p":"Gz","s":"SSTR2-SST14","x":-12,"y":-0.001,"e":0.003},{"p":"Gz","s":"SSTR2-SST14","x":-11.3,"y":-0.006,"e":0.002},{"p":"Gz","s":"SSTR2-SST14","x":-10.6,"y":-0.019,"e":0.002},{"p":"Gz","s":"SSTR2-SST14","x":-9.9,"y":-0.042,"e":0.003},{"p":"Gz","s":"SSTR2-SST14","x":-9.2,"y":-0.064,"e":0.008},{"p":"Gz","s":"SSTR2-SST14","x":-8.5,"y":-0.085,"e":0.007},{"p":"Gz","s":"SSTR2-SST14","x":-7.8,"y":-0.1,"e":0.004},{"p":"Gz","s":"SSTR2-SST14","x":-7.1,"y":-0.11,"e":0.004},{"p":"Gz","s":"SSTR2-SST14","x":-6.4,"y":-0.113,"e":0.004},{"p":"Gz","s":"SSTR2-SST14","x":-5.7,"y":-0.114,"e":0.004},{"p":"Gz","s":"SSTR2-SST14","x":-5,"y":-0.114,"e":0.003},
{"p":"Gz","s":"NTSR1","x":-12,"y":0.005,"e":0.003},{"p":"Gz","s":"NTSR1","x":-11.3,"y":0.003,"e":0.003},{"p":"Gz","s":"NTSR1","x":-10.6,"y":-0.005,"e":0.003},{"p":"Gz","s":"NTSR1","x":-9.9,"y":-0.018,"e":0.004},{"p":"Gz","s":"NTSR1","x":-9.2,"y":-0.061,"e":0.012},{"p":"Gz","s":"NTSR1","x":-8.5,"y":-0.09,"e":0.016},{"p":"Gz","s":"NTSR1","x":-7.8,"y":-0.107,"e":0.013},{"p":"Gz","s":"NTSR1","x":-7.1,"y":-0.117,"e":0.005},{"p":"Gz","s":"NTSR1","x":-6.4,"y":-0.125,"e":0.007},{"p":"Gz","s":"NTSR1","x":-5.7,"y":-0.126,"e":0.007},{"p":"Gz","s":"NTSR1","x":-5,"y":-0.128,"e":0.004},
{"p":"Gq","s":"SSTR2-Oct","x":-12,"y":0.005,"e":0.003},{"p":"Gq","s":"SSTR2-Oct","x":-11.3,"y":0.003,"e":0.003},{"p":"Gq","s":"SSTR2-Oct","x":-10.6,"y":0.002,"e":0.002},{"p":"Gq","s":"SSTR2-Oct","x":-9.9,"y":0.001,"e":0.002},{"p":"Gq","s":"SSTR2-Oct","x":-9.2,"y":0.005,"e":0.002},{"p":"Gq","s":"SSTR2-Oct","x":-8.5,"y":-0.002,"e":0.002},{"p":"Gq","s":"SSTR2-Oct","x":-7.8,"y":-0.001,"e":0.002},{"p":"Gq","s":"SSTR2-Oct","x":-7.1,"y":0,"e":0.002},{"p":"Gq","s":"SSTR2-Oct","x":-6.4,"y":-0.003,"e":0.002},{"p":"Gq","s":"SSTR2-Oct","x":-5.7,"y":0.003,"e":0.002},{"p":"Gq","s":"SSTR2-Oct","x":-5,"y":-0.001,"e":0.002},
{"p":"Gq","s":"SSTR2-SST14","x":-12,"y":0.003,"e":0.003},{"p":"Gq","s":"SSTR2-SST14","x":-11.3,"y":0,"e":0.003},{"p":"Gq","s":"SSTR2-SST14","x":-10.6,"y":-0.001,"e":0.003},{"p":"Gq","s":"SSTR2-SST14","x":-9.9,"y":-0.005,"e":0.003},{"p":"Gq","s":"SSTR2-SST14","x":-9.2,"y":-0.002,"e":0.003},{"p":"Gq","s":"SSTR2-SST14","x":-8.5,"y":-0.007,"e":0.003},{"p":"Gq","s":"SSTR2-SST14","x":-7.8,"y":-0.006,"e":0.003},{"p":"Gq","s":"SSTR2-SST14","x":-7.1,"y":0,"e":0.002},{"p":"Gq","s":"SSTR2-SST14","x":-6.4,"y":-0.004,"e":0.002},{"p":"Gq","s":"SSTR2-SST14","x":-5.7,"y":-0.001,"e":0.002},{"p":"Gq","s":"SSTR2-SST14","x":-5,"y":-0.006,"e":0.003},
{"p":"Gq","s":"NTSR1","x":-12,"y":0.012,"e":0.003},{"p":"Gq","s":"NTSR1","x":-11.3,"y":0.011,"e":0.003},{"p":"Gq","s":"NTSR1","x":-10.6,"y":0.01,"e":0.003},{"p":"Gq","s":"NTSR1","x":-9.9,"y":-0.049,"e":0.005},{"p":"Gq","s":"NTSR1","x":-9.2,"y":-0.125,"e":0.015},{"p":"Gq","s":"NTSR1","x":-8.5,"y":-0.134,"e":0.013},{"p":"Gq","s":"NTSR1","x":-7.8,"y":-0.129,"e":0.013},{"p":"Gq","s":"NTSR1","x":-7.1,"y":-0.124,"e":0.013},{"p":"Gq","s":"NTSR1","x":-6.4,"y":-0.119,"e":0.014},{"p":"Gq","s":"NTSR1","x":-5.7,"y":-0.119,"e":0.012},{"p":"Gq","s":"NTSR1","x":-5,"y":-0.122,"e":0.016},
{"p":"G11","s":"SSTR2-Oct","x":-12,"y":0.005,"e":0.002},{"p":"G11","s":"SSTR2-Oct","x":-11.3,"y":0.005,"e":0.002},{"p":"G11","s":"SSTR2-Oct","x":-10.6,"y":0,"e":0.002},{"p":"G11","s":"SSTR2-Oct","x":-9.9,"y":-0.001,"e":0.002},{"p":"G11","s":"SSTR2-Oct","x":-9.2,"y":0,"e":0.002},{"p":"G11","s":"SSTR2-Oct","x":-8.5,"y":-0.001,"e":0.002},{"p":"G11","s":"SSTR2-Oct","x":-7.8,"y":-0.004,"e":0.002},{"p":"G11","s":"SSTR2-Oct","x":-7.1,"y":-0.001,"e":0.002},{"p":"G11","s":"SSTR2-Oct","x":-6.4,"y":-0.006,"e":0.002},{"p":"G11","s":"SSTR2-Oct","x":-5.7,"y":-0.002,"e":0.002},{"p":"G11","s":"SSTR2-Oct","x":-5,"y":-0.005,"e":0.002},
{"p":"G11","s":"SSTR2-SST14","x":-12,"y":0.002,"e":0.003},{"p":"G11","s":"SSTR2-SST14","x":-11.3,"y":0,"e":0.003},{"p":"G11","s":"SSTR2-SST14","x":-10.6,"y":-0.004,"e":0.003},{"p":"G11","s":"SSTR2-SST14","x":-9.9,"y":-0.006,"e":0.003},{"p":"G11","s":"SSTR2-SST14","x":-9.2,"y":-0.006,"e":0.002},{"p":"G11","s":"SSTR2-SST14","x":-8.5,"y":-0.008,"e":0.003},{"p":"G11","s":"SSTR2-SST14","x":-7.8,"y":-0.007,"e":0.003},{"p":"G11","s":"SSTR2-SST14","x":-7.1,"y":-0.004,"e":0.002},{"p":"G11","s":"SSTR2-SST14","x":-6.4,"y":-0.006,"e":0.002},{"p":"G11","s":"SSTR2-SST14","x":-5.7,"y":-0.003,"e":0.002},{"p":"G11","s":"SSTR2-SST14","x":-5,"y":-0.006,"e":0.002},
{"p":"G11","s":"NTSR1","x":-12,"y":0.006,"e":0.003},{"p":"G11","s":"NTSR1","x":-11.3,"y":0.006,"e":0.002},{"p":"G11","s":"NTSR1","x":-10.6,"y":0.003,"e":0.003},{"p":"G11","s":"NTSR1","x":-9.9,"y":-0.048,"e":0.005},{"p":"G11","s":"NTSR1","x":-9.2,"y":-0.102,"e":0.002},{"p":"G11","s":"NTSR1","x":-8.5,"y":-0.11,"e":0.004},{"p":"G11","s":"NTSR1","x":-7.8,"y":-0.102,"e":0.005},{"p":"G11","s":"NTSR1","x":-7.1,"y":-0.099,"e":0.003},{"p":"G11","s":"NTSR1","x":-6.4,"y":-0.095,"e":0.002},{"p":"G11","s":"NTSR1","x":-5.7,"y":-0.096,"e":0.004},{"p":"G11","s":"NTSR1","x":-5,"y":-0.098,"e":0.002},
{"p":"G15","s":"SSTR2-Oct","x":-12,"y":0.0017,"e":0.002},{"p":"G15","s":"SSTR2-Oct","x":-11.3,"y":0.0017,"e":0.001},{"p":"G15","s":"SSTR2-Oct","x":-10.6,"y":0.0024,"e":0.002},{"p":"G15","s":"SSTR2-Oct","x":-9.9,"y":-0.0055,"e":0.001},{"p":"G15","s":"SSTR2-Oct","x":-9.2,"y":-0.0048,"e":0.001},{"p":"G15","s":"SSTR2-Oct","x":-8.5,"y":-0.0067,"e":0.001},{"p":"G15","s":"SSTR2-Oct","x":-7.8,"y":-0.0089,"e":0.001},{"p":"G15","s":"SSTR2-Oct","x":-7.1,"y":-0.013,"e":0.001},{"p":"G15","s":"SSTR2-Oct","x":-6.4,"y":-0.015,"e":0.001},{"p":"G15","s":"SSTR2-Oct","x":-5.7,"y":-0.0175,"e":0.001},{"p":"G15","s":"SSTR2-Oct","x":-5,"y":-0.0235,"e":0.001},
{"p":"G15","s":"SSTR2-SST14","x":-12,"y":0.005,"e":0.001},{"p":"G15","s":"SSTR2-SST14","x":-11.3,"y":0.0025,"e":0.002},{"p":"G15","s":"SSTR2-SST14","x":-10.6,"y":0,"e":0.001},{"p":"G15","s":"SSTR2-SST14","x":-9.9,"y":-0.0036,"e":0.001},{"p":"G15","s":"SSTR2-SST14","x":-9.2,"y":-0.0077,"e":0.001},{"p":"G15","s":"SSTR2-SST14","x":-8.5,"y":-0.0072,"e":0.001},{"p":"G15","s":"SSTR2-SST14","x":-7.8,"y":-0.013,"e":0.001},{"p":"G15","s":"SSTR2-SST14","x":-7.1,"y":-0.021,"e":0.001},{"p":"G15","s":"SSTR2-SST14","x":-6.4,"y":-0.0216,"e":0.001},{"p":"G15","s":"SSTR2-SST14","x":-5.7,"y":-0.025,"e":0.001},{"p":"G15","s":"SSTR2-SST14","x":-5,"y":-0.027,"e":0.001},
{"p":"G15","s":"NTSR1","x":-12,"y":-0.002,"e":0.005},{"p":"G15","s":"NTSR1","x":-11.3,"y":-0.005,"e":0.004},{"p":"G15","s":"NTSR1","x":-10.6,"y":-0.014,"e":0.004},{"p":"G15","s":"NTSR1","x":-9.9,"y":-0.039,"e":0.006},{"p":"G15","s":"NTSR1","x":-9.2,"y":-0.055,"e":0.008},{"p":"G15","s":"NTSR1","x":-8.5,"y":-0.057,"e":0.009},{"p":"G15","s":"NTSR1","x":-7.8,"y":-0.055,"e":0.008},{"p":"G15","s":"NTSR1","x":-7.1,"y":-0.054,"e":0.008},{"p":"G15","s":"NTSR1","x":-6.4,"y":-0.054,"e":0.008},{"p":"G15","s":"NTSR1","x":-5.7,"y":-0.055,"e":0.008},{"p":"G15","s":"NTSR1","x":-5,"y":-0.056,"e":0.009},
{"p":"G12","s":"SSTR2-Oct","x":-12,"y":0,"e":0.002},{"p":"G12","s":"SSTR2-Oct","x":-11.3,"y":0.001,"e":0.002},{"p":"G12","s":"SSTR2-Oct","x":-10.6,"y":-0.011,"e":0.002},{"p":"G12","s":"SSTR2-Oct","x":-9.9,"y":-0.012,"e":0.002},{"p":"G12","s":"SSTR2-Oct","x":-9.2,"y":-0.012,"e":0.002},{"p":"G12","s":"SSTR2-Oct","x":-8.5,"y":-0.011,"e":0.002},{"p":"G12","s":"SSTR2-Oct","x":-7.8,"y":-0.013,"e":0.002},{"p":"G12","s":"SSTR2-Oct","x":-7.1,"y":-0.018,"e":0.002},{"p":"G12","s":"SSTR2-Oct","x":-6.4,"y":-0.017,"e":0.002},{"p":"G12","s":"SSTR2-Oct","x":-5.7,"y":-0.022,"e":0.003},{"p":"G12","s":"SSTR2-Oct","x":-5,"y":-0.025,"e":0.002},
{"p":"G12","s":"SSTR2-SST14","x":-12,"y":-0.006,"e":0.002},{"p":"G12","s":"SSTR2-SST14","x":-11.3,"y":0.003,"e":0.002},{"p":"G12","s":"SSTR2-SST14","x":-10.6,"y":-0.001,"e":0.002},{"p":"G12","s":"SSTR2-SST14","x":-9.9,"y":-0.003,"e":0.002},{"p":"G12","s":"SSTR2-SST14","x":-9.2,"y":-0.005,"e":0.002},{"p":"G12","s":"SSTR2-SST14","x":-8.5,"y":-0.012,"e":0.002},{"p":"G12","s":"SSTR2-SST14","x":-7.8,"y":-0.02,"e":0.002},{"p":"G12","s":"SSTR2-SST14","x":-7.1,"y":-0.019,"e":0.002},{"p":"G12","s":"SSTR2-SST14","x":-6.4,"y":-0.02,"e":0.002},{"p":"G12","s":"SSTR2-SST14","x":-5.7,"y":-0.012,"e":0.004},{"p":"G12","s":"SSTR2-SST14","x":-5,"y":-0.025,"e":0.002},
{"p":"G12","s":"NTSR1","x":-12,"y":0.008,"e":0.002},{"p":"G12","s":"NTSR1","x":-11.3,"y":0.01,"e":0.002},{"p":"G12","s":"NTSR1","x":-10.6,"y":0.01,"e":0.003},{"p":"G12","s":"NTSR1","x":-9.9,"y":-0.032,"e":0.002},{"p":"G12","s":"NTSR1","x":-9.2,"y":-0.065,"e":0.003},{"p":"G12","s":"NTSR1","x":-8.5,"y":-0.109,"e":0.003},{"p":"G12","s":"NTSR1","x":-7.8,"y":-0.121,"e":0.006},{"p":"G12","s":"NTSR1","x":-7.1,"y":-0.124,"e":0.008},{"p":"G12","s":"NTSR1","x":-6.4,"y":-0.124,"e":0.003},{"p":"G12","s":"NTSR1","x":-5.7,"y":-0.124,"e":0.006},{"p":"G12","s":"NTSR1","x":-5,"y":-0.129,"e":0.005},
{"p":"G13","s":"SSTR2-Oct","x":-12,"y":0.02,"e":0.004},{"p":"G13","s":"SSTR2-Oct","x":-11.3,"y":0.015,"e":0.004},{"p":"G13","s":"SSTR2-Oct","x":-10.6,"y":0.018,"e":0.004},{"p":"G13","s":"SSTR2-Oct","x":-9.9,"y":0.006,"e":0.004},{"p":"G13","s":"SSTR2-Oct","x":-9.2,"y":0.002,"e":0.004},{"p":"G13","s":"SSTR2-Oct","x":-8.5,"y":0.002,"e":0.004},{"p":"G13","s":"SSTR2-Oct","x":-7.8,"y":0,"e":0.004},{"p":"G13","s":"SSTR2-Oct","x":-7.1,"y":0.004,"e":0.004},{"p":"G13","s":"SSTR2-Oct","x":-6.4,"y":0,"e":0.004},{"p":"G13","s":"SSTR2-Oct","x":-5.7,"y":0.008,"e":0.004},{"p":"G13","s":"SSTR2-Oct","x":-5,"y":0,"e":0.004},
{"p":"G13","s":"SSTR2-SST14","x":-12,"y":0.006,"e":0.005},{"p":"G13","s":"SSTR2-SST14","x":-11.3,"y":0.009,"e":0.005},{"p":"G13","s":"SSTR2-SST14","x":-10.6,"y":0.009,"e":0.005},{"p":"G13","s":"SSTR2-SST14","x":-9.9,"y":-0.002,"e":0.005},{"p":"G13","s":"SSTR2-SST14","x":-9.2,"y":-0.004,"e":0.005},{"p":"G13","s":"SSTR2-SST14","x":-8.5,"y":0,"e":0.005},{"p":"G13","s":"SSTR2-SST14","x":-7.8,"y":-0.004,"e":0.005},{"p":"G13","s":"SSTR2-SST14","x":-7.1,"y":-0.009,"e":0.005},{"p":"G13","s":"SSTR2-SST14","x":-6.4,"y":-0.008,"e":0.005},{"p":"G13","s":"SSTR2-SST14","x":-5.7,"y":-0.006,"e":0.005},{"p":"G13","s":"SSTR2-SST14","x":-5,"y":-0.009,"e":0.005},
{"p":"G13","s":"NTSR1","x":-12,"y":0.008,"e":0.004},{"p":"G13","s":"NTSR1","x":-11.3,"y":0.008,"e":0.004},{"p":"G13","s":"NTSR1","x":-10.6,"y":0,"e":0.004},{"p":"G13","s":"NTSR1","x":-9.9,"y":-0.1,"e":0.005},{"p":"G13","s":"NTSR1","x":-9.2,"y":-0.204,"e":0.006},{"p":"G13","s":"NTSR1","x":-8.5,"y":-0.286,"e":0.005},{"p":"G13","s":"NTSR1","x":-7.8,"y":-0.3,"e":0.005},{"p":"G13","s":"NTSR1","x":-7.1,"y":-0.308,"e":0.005},{"p":"G13","s":"NTSR1","x":-6.4,"y":-0.308,"e":0.005},{"p":"G13","s":"NTSR1","x":-5.7,"y":-0.304,"e":0.005},{"p":"G13","s":"NTSR1","x":-5,"y":-0.306,"e":0.005},
{"p":"Gs","s":"SSTR2-Oct","x":-12,"y":0.007,"e":0.006},{"p":"Gs","s":"SSTR2-Oct","x":-11.3,"y":0.005,"e":0.004},{"p":"Gs","s":"SSTR2-Oct","x":-10.6,"y":0.003,"e":0.003},{"p":"Gs","s":"SSTR2-Oct","x":-9.9,"y":-0.001,"e":0.004},{"p":"Gs","s":"SSTR2-Oct","x":-9.2,"y":0,"e":0.004},{"p":"Gs","s":"SSTR2-Oct","x":-8.5,"y":-0.002,"e":0.003},{"p":"Gs","s":"SSTR2-Oct","x":-7.8,"y":0.001,"e":0.003},{"p":"Gs","s":"SSTR2-Oct","x":-7.1,"y":0,"e":0.003},{"p":"Gs","s":"SSTR2-Oct","x":-6.4,"y":-0.002,"e":0.004},{"p":"Gs","s":"SSTR2-Oct","x":-5.7,"y":-0.001,"e":0.004},{"p":"Gs","s":"SSTR2-Oct","x":-5,"y":-0.006,"e":0.01},
{"p":"Gs","s":"SSTR2-SST14","x":-12,"y":0.003,"e":0.01},{"p":"Gs","s":"SSTR2-SST14","x":-11.3,"y":0.007,"e":0.006},{"p":"Gs","s":"SSTR2-SST14","x":-10.6,"y":0.005,"e":0.003},{"p":"Gs","s":"SSTR2-SST14","x":-9.9,"y":0.002,"e":0.007},{"p":"Gs","s":"SSTR2-SST14","x":-9.2,"y":-0.004,"e":0.005},{"p":"Gs","s":"SSTR2-SST14","x":-8.5,"y":0.008,"e":0.01},{"p":"Gs","s":"SSTR2-SST14","x":-7.8,"y":0.006,"e":0.006},{"p":"Gs","s":"SSTR2-SST14","x":-7.1,"y":0.005,"e":0.005},{"p":"Gs","s":"SSTR2-SST14","x":-6.4,"y":-0.007,"e":0.006},{"p":"Gs","s":"SSTR2-SST14","x":-5.7,"y":0.011,"e":0.009},{"p":"Gs","s":"SSTR2-SST14","x":-5,"y":-0.003,"e":0.013},
{"p":"Gs","s":"ADBR2","x":-12,"y":-0.002,"e":0.016},{"p":"Gs","s":"ADBR2","x":-11.3,"y":0.002,"e":0.004},{"p":"Gs","s":"ADBR2","x":-10.6,"y":0.002,"e":0.003},{"p":"Gs","s":"ADBR2","x":-9.9,"y":-0.01,"e":0.004},{"p":"Gs","s":"ADBR2","x":-9.2,"y":-0.026,"e":0.005},{"p":"Gs","s":"ADBR2","x":-8.5,"y":-0.046,"e":0.004},{"p":"Gs","s":"ADBR2","x":-7.8,"y":-0.064,"e":0.005},{"p":"Gs","s":"ADBR2","x":-7.1,"y":-0.078,"e":0.006},{"p":"Gs","s":"ADBR2","x":-6.4,"y":-0.086,"e":0.007},{"p":"Gs","s":"ADBR2","x":-5.7,"y":-0.084,"e":0.006},{"p":"Gs","s":"ADBR2","x":-5,"y":-0.102,"e":0.007}
]},
"columns":1,"align":"none","spacing":0,
"resolve":{"scale":{"fill":"independent","shape":"independent","stroke":"independent","color":"independent"},"legend":{"fill":"independent","shape":"independent","color":"independent","stroke":"independent"}},
"concat":[
{"title":{"text":"a","anchor":"start","frame":"bounds","fontSize":24,"offset":-20,"dx":2},
 "columns":3,"bounds":"flush","spacing":{"row":65,"column":82},
 "resolve":{"scale":{"fill":"independent","shape":"independent","stroke":"independent"},"legend":{"fill":"independent","shape":"independent","stroke":"independent"}},
 "concat":[
{"title":"Gi1","width":176,"height":140,"transform":[{"filter":"datum.p=='Gi1'"}],
 "encoding":{"x":{"field":"x","type":"quantitative","scale":{"domain":[-13,-4],"nice":false},"axis":{"values":[-12,-10,-8,-6,-4],"title":"log([agonist]) (M)"}},
 "y":{"field":"y","type":"quantitative","scale":{"domain":[-0.2,0.05],"nice":false},"axis":{"values":[0.05,0,-0.05,-0.1,-0.15,-0.2],"format":".2f","title":"Net BRET"}}},
 "layer":[
 {"transform":[{"aggregate":[{"op":"count","as":"n"}]}],"mark":{"type":"rule","strokeDash":[2,2],"color":"#000","strokeWidth":1.3},"encoding":{"x":{"datum":-13},"x2":{"datum":-4},"y":{"datum":0}}},
 {"transform":[{"filter":"datum.c"}],"mark":"line","encoding":{"stroke":{"field":"s","type":"nominal","scale":{"domain":["ADBR2","NTSR1","SSTR2-SST14","SSTR2-Oct"],"range":["#86b8ba","#a8e6ec","#e0507c","#a9a9f2"]},"legend":null}}},
 {"transform":[{"filter":"!datum.c"}],"mark":{"type":"errorbar","ticks":true,"color":"#333","size":7,"thickness":1.1},"encoding":{"yError":{"field":"e"}}},
 {"transform":[{"filter":"!datum.c"}],"mark":{"type":"point","filled":true,"size":110,"color":"#999","opacity":0.55,"strokeWidth":0},"encoding":{"shape":{"field":"s","type":"nominal","scale":{"domain":["NTSR1","SSTR2-SST14","SSTR2-Oct","ADBR2"],"range":["triangle-down","square","circle","diamond"]},"legend":null}}},
 {"transform":[{"filter":"!datum.c"}],"mark":{"type":"point","filled":true,"size":60,"stroke":"#222","strokeWidth":0.9,"opacity":1},"encoding":{"fill":{"field":"s","type":"nominal","scale":{"domain":["NTSR1","SSTR2-SST14","SSTR2-Oct","ADBR2"],"range":["#9fe3ea","#d0386c","#a5a5f0","#2a8a8e"]},"legend":null},"shape":{"field":"s","type":"nominal","scale":{"domain":["NTSR1","SSTR2-SST14","SSTR2-Oct","ADBR2"],"range":["triangle-down","square","circle","diamond"]},"legend":null}}}
 ]},
{"title":"Gi2","width":176,"height":140,"transform":[{"filter":"datum.p=='Gi2'"}],
 "encoding":{"x":{"field":"x","type":"quantitative","scale":{"domain":[-13,-4],"nice":false},"axis":{"values":[-12,-10,-8,-6,-4],"title":"log([agonist]) (M)"}},
 "y":{"field":"y","type":"quantitative","scale":{"domain":[-0.2,0.04],"nice":false},"axis":{"values":[0,-0.06,-0.12,-0.18],"format":".2f","title":"Net BRET"}}},
 "layer":[
 {"transform":[{"aggregate":[{"op":"count","as":"n"}]}],"mark":{"type":"rule","strokeDash":[2,2],"color":"#000","strokeWidth":1.3},"encoding":{"x":{"datum":-13},"x2":{"datum":-4},"y":{"datum":0}}},
 {"transform":[{"filter":"datum.c"}],"mark":"line","encoding":{"stroke":{"field":"s","type":"nominal","scale":{"domain":["ADBR2","NTSR1","SSTR2-SST14","SSTR2-Oct"],"range":["#86b8ba","#a8e6ec","#e0507c","#a9a9f2"]},"legend":null}}},
 {"transform":[{"filter":"!datum.c"}],"mark":{"type":"errorbar","ticks":true,"color":"#333","size":7,"thickness":1.1},"encoding":{"yError":{"field":"e"}}},
 {"transform":[{"filter":"!datum.c"}],"mark":{"type":"point","filled":true,"size":110,"color":"#999","opacity":0.55,"strokeWidth":0},"encoding":{"shape":{"field":"s","type":"nominal","scale":{"domain":["NTSR1","SSTR2-SST14","SSTR2-Oct","ADBR2"],"range":["triangle-down","square","circle","diamond"]},"legend":null}}},
 {"transform":[{"filter":"!datum.c"}],"mark":{"type":"point","filled":true,"size":60,"stroke":"#222","strokeWidth":0.9,"opacity":1},"encoding":{"fill":{"field":"s","type":"nominal","scale":{"domain":["NTSR1","SSTR2-SST14","SSTR2-Oct","ADBR2"],"range":["#9fe3ea","#d0386c","#a5a5f0","#2a8a8e"]},"legend":null},"shape":{"field":"s","type":"nominal","scale":{"domain":["NTSR1","SSTR2-SST14","SSTR2-Oct","ADBR2"],"range":["triangle-down","square","circle","diamond"]},"legend":null}}}
 ]},
{"title":"Gi3","width":176,"height":140,"transform":[{"filter":"datum.p=='Gi3'"}],
 "encoding":{"x":{"field":"x","type":"quantitative","scale":{"domain":[-13,-4],"nice":false},"axis":{"values":[-12,-10,-8,-6,-4],"title":"log([agonist]) (M)"}},
 "y":{"field":"y","type":"quantitative","scale":{"domain":[-0.24,0.04],"nice":false},"axis":{"values":[0,-0.06,-0.12,-0.18,-0.24],"format":".2f","title":"Net BRET"}}},
 "layer":[
 {"transform":[{"aggregate":[{"op":"count","as":"n"}]}],"mark":{"type":"rule","strokeDash":[2,2],"color":"#000","strokeWidth":1.3},"encoding":{"x":{"datum":-13},"x2":{"datum":-4},"y":{"datum":0}}},
 {"transform":[{"filter":"datum.c"}],"mark":"line","encoding":{"stroke":{"field":"s","type":"nominal","scale":{"domain":["ADBR2","NTSR1","SSTR2-SST14","SSTR2-Oct"],"range":["#86b8ba","#a8e6ec","#e0507c","#a9a9f2"]},"legend":null}}},
 {"transform":[{"filter":"!datum.c"}],"mark":{"type":"errorbar","ticks":true,"color":"#333","size":7,"thickness":1.1},"encoding":{"yError":{"field":"e"}}},
 {"transform":[{"filter":"!datum.c"}],"mark":{"type":"point","filled":true,"size":60,"stroke":"#222","strokeWidth":0.9,"opacity":1},"encoding":{"fill":{"field":"s","type":"nominal","scale":{"domain":["NTSR1","SSTR2-SST14","SSTR2-Oct","ADBR2"],"range":["#9fe3ea","#d0386c","#a5a5f0","#2a8a8e"]},"legend":{"orient":"none","legendX":152,"legendY":33,"title":null,"labelFont":"Liberation Sans","labelFontSize":11.5,"labelFontWeight":"bold","labelColor":"#000","symbolSize":70,"rowPadding":6,"labelOffset":13,"symbolStrokeColor":"#222","symbolStrokeWidth":0.9}},"shape":{"field":"s","type":"nominal","scale":{"domain":["NTSR1","SSTR2-SST14","SSTR2-Oct","ADBR2"],"range":["triangle-down","square","circle","diamond"]},"legend":{"orient":"none","legendX":152,"legendY":33,"title":null,"labelFont":"Liberation Sans","labelFontSize":11.5,"labelFontWeight":"bold","labelColor":"#000","symbolSize":70,"rowPadding":6,"labelOffset":13,"symbolStrokeColor":"#222","symbolStrokeWidth":0.9}}}}
 ]},
{"title":"GoA","width":176,"height":140,"transform":[{"filter":"datum.p=='GoA'"}],
 "encoding":{"x":{"field":"x","type":"quantitative","scale":{"domain":[-13,-4],"nice":false},"axis":{"values":[-12,-10,-8,-6,-4],"title":"log([agonist]) (M)"}},
 "y":{"field":"y","type":"quantitative","scale":{"domain":[-0.2,0.05],"nice":false},"axis":{"values":[0.05,0,-0.05,-0.1,-0.15,-0.2],"format":".2f","title":"Net BRET"}}},
 "layer":[
 {"transform":[{"aggregate":[{"op":"count","as":"n"}]}],"mark":{"type":"rule","strokeDash":[2,2],"color":"#000","strokeWidth":1.3},"encoding":{"x":{"datum":-13},"x2":{"datum":-4},"y":{"datum":0}}},
 {"transform":[{"filter":"datum.c"}],"mark":"line","encoding":{"stroke":{"field":"s","type":"nominal","scale":{"domain":["ADBR2","NTSR1","SSTR2-SST14","SSTR2-Oct"],"range":["#86b8ba","#a8e6ec","#e0507c","#a9a9f2"]},"legend":null}}},
 {"transform":[{"filter":"!datum.c"}],"mark":{"type":"errorbar","ticks":true,"color":"#333","size":7,"thickness":1.1},"encoding":{"yError":{"field":"e"}}},
 {"transform":[{"filter":"!datum.c"}],"mark":{"type":"point","filled":true,"size":110,"color":"#999","opacity":0.55,"strokeWidth":0},"encoding":{"shape":{"field":"s","type":"nominal","scale":{"domain":["NTSR1","SSTR2-SST14","SSTR2-Oct","ADBR2"],"range":["triangle-down","square","circle","diamond"]},"legend":null}}},
 {"transform":[{"filter":"!datum.c"}],"mark":{"type":"point","filled":true,"size":60,"stroke":"#222","strokeWidth":0.9,"opacity":1},"encoding":{"fill":{"field":"s","type":"nominal","scale":{"domain":["NTSR1","SSTR2-SST14","SSTR2-Oct","ADBR2"],"range":["#9fe3ea","#d0386c","#a5a5f0","#2a8a8e"]},"legend":null},"shape":{"field":"s","type":"nominal","scale":{"domain":["NTSR1","SSTR2-SST14","SSTR2-Oct","ADBR2"],"range":["triangle-down","square","circle","diamond"]},"legend":null}}}
 ]},
{"title":"GoB","width":176,"height":140,"transform":[{"filter":"datum.p=='GoB'"}],
 "encoding":{"x":{"field":"x","type":"quantitative","scale":{"domain":[-13,-4],"nice":false},"axis":{"values":[-12,-10,-8,-6,-4],"title":"log([agonist]) (M)"}},
 "y":{"field":"y","type":"quantitative","scale":{"domain":[-0.2,0.05],"nice":false},"axis":{"values":[0.05,0,-0.05,-0.1,-0.15,-0.2],"format":".2f","title":"Net BRET"}}},
 "layer":[
 {"transform":[{"aggregate":[{"op":"count","as":"n"}]}],"mark":{"type":"rule","strokeDash":[2,2],"color":"#000","strokeWidth":1.3},"encoding":{"x":{"datum":-13},"x2":{"datum":-4},"y":{"datum":0}}},
 {"transform":[{"filter":"datum.c"}],"mark":"line","encoding":{"stroke":{"field":"s","type":"nominal","scale":{"domain":["ADBR2","NTSR1","SSTR2-SST14","SSTR2-Oct"],"range":["#86b8ba","#a8e6ec","#e0507c","#a9a9f2"]},"legend":null}}},
 {"transform":[{"filter":"!datum.c"}],"mark":{"type":"errorbar","ticks":true,"color":"#333","size":7,"thickness":1.1},"encoding":{"yError":{"field":"e"}}},
 {"transform":[{"filter":"!datum.c"}],"mark":{"type":"point","filled":true,"size":110,"color":"#999","opacity":0.55,"strokeWidth":0},"encoding":{"shape":{"field":"s","type":"nominal","scale":{"domain":["NTSR1","SSTR2-SST14","SSTR2-Oct","ADBR2"],"range":["triangle-down","square","circle","diamond"]},"legend":null}}},
 {"transform":[{"filter":"!datum.c"}],"mark":{"type":"point","filled":true,"size":60,"stroke":"#222","strokeWidth":0.9,"opacity":1},"encoding":{"fill":{"field":"s","type":"nominal","scale":{"domain":["NTSR1","SSTR2-SST14","SSTR2-Oct","ADBR2"],"range":["#9fe3ea","#d0386c","#a5a5f0","#2a8a8e"]},"legend":null},"shape":{"field":"s","type":"nominal","scale":{"domain":["NTSR1","SSTR2-SST14","SSTR2-Oct","ADBR2"],"range":["triangle-down","square","circle","diamond"]},"legend":null}}}
 ]},
{"title":"Gz","width":176,"height":140,"transform":[{"filter":"datum.p=='Gz'"}],
 "encoding":{"x":{"field":"x","type":"quantitative","scale":{"domain":[-13,-4],"nice":false},"axis":{"values":[-12,-10,-8,-6,-4],"title":"log([agonist]) (M)"}},
 "y":{"field":"y","type":"quantitative","scale":{"domain":[-0.15,0.05],"nice":false},"axis":{"values":[0.05,0,-0.05,-0.1,-0.15],"format":".2f","title":"Net BRET"}}},
 "layer":[
 {"transform":[{"aggregate":[{"op":"count","as":"n"}]}],"mark":{"type":"rule","strokeDash":[2,2],"color":"#000","strokeWidth":1.3},"encoding":{"x":{"datum":-13},"x2":{"datum":-4},"y":{"datum":0}}},
 {"transform":[{"filter":"datum.c"}],"mark":"line","encoding":{"stroke":{"field":"s","type":"nominal","scale":{"domain":["ADBR2","NTSR1","SSTR2-SST14","SSTR2-Oct"],"range":["#86b8ba","#a8e6ec","#e0507c","#a9a9f2"]},"legend":null}}},
 {"transform":[{"filter":"!datum.c"}],"mark":{"type":"errorbar","ticks":true,"color":"#333","size":7,"thickness":1.1},"encoding":{"yError":{"field":"e"}}},
 {"transform":[{"filter":"!datum.c"}],"mark":{"type":"point","filled":true,"size":110,"color":"#999","opacity":0.55,"strokeWidth":0},"encoding":{"shape":{"field":"s","type":"nominal","scale":{"domain":["NTSR1","SSTR2-SST14","SSTR2-Oct","ADBR2"],"range":["triangle-down","square","circle","diamond"]},"legend":null}}},
 {"transform":[{"filter":"!datum.c"}],"mark":{"type":"point","filled":true,"size":60,"stroke":"#222","strokeWidth":0.9,"opacity":1},"encoding":{"fill":{"field":"s","type":"nominal","scale":{"domain":["NTSR1","SSTR2-SST14","SSTR2-Oct","ADBR2"],"range":["#9fe3ea","#d0386c","#a5a5f0","#2a8a8e"]},"legend":null},"shape":{"field":"s","type":"nominal","scale":{"domain":["NTSR1","SSTR2-SST14","SSTR2-Oct","ADBR2"],"range":["triangle-down","square","circle","diamond"]},"legend":null}}}
 ]},
{"title":"Gq","width":176,"height":140,"transform":[{"filter":"datum.p=='Gq'"}],
 "encoding":{"x":{"field":"x","type":"quantitative","scale":{"domain":[-13,-4],"nice":false},"axis":{"values":[-12,-10,-8,-6,-4],"title":"log([agonist]) (M)"}},
 "y":{"field":"y","type":"quantitative","scale":{"domain":[-0.16,0.04],"nice":false},"axis":{"values":[0.04,0,-0.04,-0.08,-0.12,-0.16],"format":".2f","title":"Net BRET"}}},
 "layer":[
 {"transform":[{"aggregate":[{"op":"count","as":"n"}]}],"mark":{"type":"rule","strokeDash":[2,2],"color":"#000","strokeWidth":1.3},"encoding":{"x":{"datum":-13},"x2":{"datum":-4},"y":{"datum":0}}},
 {"transform":[{"filter":"datum.c"}],"mark":"line","encoding":{"stroke":{"field":"s","type":"nominal","scale":{"domain":["ADBR2","NTSR1","SSTR2-SST14","SSTR2-Oct"],"range":["#86b8ba","#a8e6ec","#e0507c","#a9a9f2"]},"legend":null}}},
 {"transform":[{"filter":"!datum.c"}],"mark":{"type":"errorbar","ticks":true,"color":"#333","size":7,"thickness":1.1},"encoding":{"yError":{"field":"e"}}},
 {"transform":[{"filter":"!datum.c"}],"mark":{"type":"point","filled":true,"size":110,"color":"#999","opacity":0.55,"strokeWidth":0},"encoding":{"shape":{"field":"s","type":"nominal","scale":{"domain":["NTSR1","SSTR2-SST14","SSTR2-Oct","ADBR2"],"range":["triangle-down","square","circle","diamond"]},"legend":null}}},
 {"transform":[{"filter":"!datum.c"}],"mark":{"type":"point","filled":true,"size":60,"stroke":"#222","strokeWidth":0.9,"opacity":1},"encoding":{"fill":{"field":"s","type":"nominal","scale":{"domain":["NTSR1","SSTR2-SST14","SSTR2-Oct","ADBR2"],"range":["#9fe3ea","#d0386c","#a5a5f0","#2a8a8e"]},"legend":null},"shape":{"field":"s","type":"nominal","scale":{"domain":["NTSR1","SSTR2-SST14","SSTR2-Oct","ADBR2"],"range":["triangle-down","square","circle","diamond"]},"legend":null}}}
 ]},
{"title":"G11","width":176,"height":140,"transform":[{"filter":"datum.p=='G11'"}],
 "encoding":{"x":{"field":"x","type":"quantitative","scale":{"domain":[-13,-4],"nice":false},"axis":{"values":[-12,-10,-8,-6,-4],"title":"log([agonist]) (M)"}},
 "y":{"field":"y","type":"quantitative","scale":{"domain":[-0.15,0.05],"nice":false},"axis":{"values":[0.05,0,-0.05,-0.1,-0.15],"format":".2f","title":"Net BRET"}}},
 "layer":[
 {"transform":[{"aggregate":[{"op":"count","as":"n"}]}],"mark":{"type":"rule","strokeDash":[2,2],"color":"#000","strokeWidth":1.3},"encoding":{"x":{"datum":-13},"x2":{"datum":-4},"y":{"datum":0}}},
 {"transform":[{"filter":"datum.c"}],"mark":"line","encoding":{"stroke":{"field":"s","type":"nominal","scale":{"domain":["ADBR2","NTSR1","SSTR2-SST14","SSTR2-Oct"],"range":["#86b8ba","#a8e6ec","#e0507c","#a9a9f2"]},"legend":null}}},
 {"transform":[{"filter":"!datum.c"}],"mark":{"type":"errorbar","ticks":true,"color":"#333","size":7,"thickness":1.1},"encoding":{"yError":{"field":"e"}}},
 {"transform":[{"filter":"!datum.c"}],"mark":{"type":"point","filled":true,"size":110,"color":"#999","opacity":0.55,"strokeWidth":0},"encoding":{"shape":{"field":"s","type":"nominal","scale":{"domain":["NTSR1","SSTR2-SST14","SSTR2-Oct","ADBR2"],"range":["triangle-down","square","circle","diamond"]},"legend":null}}},
 {"transform":[{"filter":"!datum.c"}],"mark":{"type":"point","filled":true,"size":60,"stroke":"#222","strokeWidth":0.9,"opacity":1},"encoding":{"fill":{"field":"s","type":"nominal","scale":{"domain":["NTSR1","SSTR2-SST14","SSTR2-Oct","ADBR2"],"range":["#9fe3ea","#d0386c","#a5a5f0","#2a8a8e"]},"legend":null},"shape":{"field":"s","type":"nominal","scale":{"domain":["NTSR1","SSTR2-SST14","SSTR2-Oct","ADBR2"],"range":["triangle-down","square","circle","diamond"]},"legend":null}}}
 ]},
{"title":"G15","width":176,"height":140,"transform":[{"filter":"datum.p=='G15'"}],
 "encoding":{"x":{"field":"x","type":"quantitative","scale":{"domain":[-13,-4],"nice":false},"axis":{"values":[-12,-10,-8,-6,-4],"title":"log([agonist]) (M)"}},
 "y":{"field":"y","type":"quantitative","scale":{"domain":[-0.08,0.02],"nice":false},"axis":{"values":[0.02,0,-0.02,-0.04,-0.06,-0.08],"format":".2f","title":"Net BRET"}}},
 "layer":[
 {"transform":[{"aggregate":[{"op":"count","as":"n"}]}],"mark":{"type":"rule","strokeDash":[2,2],"color":"#000","strokeWidth":1.3},"encoding":{"x":{"datum":-13},"x2":{"datum":-4},"y":{"datum":0}}},
 {"transform":[{"filter":"datum.c"}],"mark":"line","encoding":{"stroke":{"field":"s","type":"nominal","scale":{"domain":["ADBR2","NTSR1","SSTR2-SST14","SSTR2-Oct"],"range":["#86b8ba","#a8e6ec","#e0507c","#a9a9f2"]},"legend":null}}},
 {"transform":[{"filter":"!datum.c"}],"mark":{"type":"errorbar","ticks":true,"color":"#333","size":7,"thickness":1.1},"encoding":{"yError":{"field":"e"}}},
 {"transform":[{"filter":"!datum.c"}],"mark":{"type":"point","filled":true,"size":110,"color":"#999","opacity":0.55,"strokeWidth":0},"encoding":{"shape":{"field":"s","type":"nominal","scale":{"domain":["NTSR1","SSTR2-SST14","SSTR2-Oct","ADBR2"],"range":["triangle-down","square","circle","diamond"]},"legend":null}}},
 {"transform":[{"filter":"!datum.c"}],"mark":{"type":"point","filled":true,"size":60,"stroke":"#222","strokeWidth":0.9,"opacity":1},"encoding":{"fill":{"field":"s","type":"nominal","scale":{"domain":["NTSR1","SSTR2-SST14","SSTR2-Oct","ADBR2"],"range":["#9fe3ea","#d0386c","#a5a5f0","#2a8a8e"]},"legend":null},"shape":{"field":"s","type":"nominal","scale":{"domain":["NTSR1","SSTR2-SST14","SSTR2-Oct","ADBR2"],"range":["triangle-down","square","circle","diamond"]},"legend":null}}}
 ]},
{"title":"G12","width":176,"height":140,"transform":[{"filter":"datum.p=='G12'"}],
 "encoding":{"x":{"field":"x","type":"quantitative","scale":{"domain":[-13,-4],"nice":false},"axis":{"values":[-12,-10,-8,-6,-4],"title":"log([agonist]) (M)"}},
 "y":{"field":"y","type":"quantitative","scale":{"domain":[-0.15,0.05],"nice":false},"axis":{"values":[0.05,0,-0.05,-0.1,-0.15],"format":".2f","title":"Net BRET"}}},
 "layer":[
 {"transform":[{"aggregate":[{"op":"count","as":"n"}]}],"mark":{"type":"rule","strokeDash":[2,2],"color":"#000","strokeWidth":1.3},"encoding":{"x":{"datum":-13},"x2":{"datum":-4},"y":{"datum":0}}},
 {"transform":[{"filter":"datum.c"}],"mark":"line","encoding":{"stroke":{"field":"s","type":"nominal","scale":{"domain":["ADBR2","NTSR1","SSTR2-SST14","SSTR2-Oct"],"range":["#86b8ba","#a8e6ec","#e0507c","#a9a9f2"]},"legend":null}}},
 {"transform":[{"filter":"!datum.c"}],"mark":{"type":"errorbar","ticks":true,"color":"#333","size":7,"thickness":1.1},"encoding":{"yError":{"field":"e"}}},
 {"transform":[{"filter":"!datum.c"}],"mark":{"type":"point","filled":true,"size":110,"color":"#999","opacity":0.55,"strokeWidth":0},"encoding":{"shape":{"field":"s","type":"nominal","scale":{"domain":["NTSR1","SSTR2-SST14","SSTR2-Oct","ADBR2"],"range":["triangle-down","square","circle","diamond"]},"legend":null}}},
 {"transform":[{"filter":"!datum.c"}],"mark":{"type":"point","filled":true,"size":60,"stroke":"#222","strokeWidth":0.9,"opacity":1},"encoding":{"fill":{"field":"s","type":"nominal","scale":{"domain":["NTSR1","SSTR2-SST14","SSTR2-Oct","ADBR2"],"range":["#9fe3ea","#d0386c","#a5a5f0","#2a8a8e"]},"legend":null},"shape":{"field":"s","type":"nominal","scale":{"domain":["NTSR1","SSTR2-SST14","SSTR2-Oct","ADBR2"],"range":["triangle-down","square","circle","diamond"]},"legend":null}}}
 ]},
{"title":"G13","width":176,"height":140,"transform":[{"filter":"datum.p=='G13'"}],
 "encoding":{"x":{"field":"x","type":"quantitative","scale":{"domain":[-13,-4],"nice":false},"axis":{"values":[-12,-10,-8,-6,-4],"title":"log([agonist]) (M)"}},
 "y":{"field":"y","type":"quantitative","scale":{"domain":[-0.4,0.1],"nice":false},"axis":{"values":[0.1,0,-0.1,-0.2,-0.3,-0.4],"format":".1f","title":"Net BRET"}}},
 "layer":[
 {"transform":[{"aggregate":[{"op":"count","as":"n"}]}],"mark":{"type":"rule","strokeDash":[2,2],"color":"#000","strokeWidth":1.3},"encoding":{"x":{"datum":-13},"x2":{"datum":-4},"y":{"datum":0}}},
 {"transform":[{"filter":"datum.c"}],"mark":"line","encoding":{"stroke":{"field":"s","type":"nominal","scale":{"domain":["ADBR2","NTSR1","SSTR2-SST14","SSTR2-Oct"],"range":["#86b8ba","#a8e6ec","#e0507c","#a9a9f2"]},"legend":null}}},
 {"transform":[{"filter":"!datum.c"}],"mark":{"type":"errorbar","ticks":true,"color":"#333","size":7,"thickness":1.1},"encoding":{"yError":{"field":"e"}}},
 {"transform":[{"filter":"!datum.c"}],"mark":{"type":"point","filled":true,"size":110,"color":"#999","opacity":0.55,"strokeWidth":0},"encoding":{"shape":{"field":"s","type":"nominal","scale":{"domain":["NTSR1","SSTR2-SST14","SSTR2-Oct","ADBR2"],"range":["triangle-down","square","circle","diamond"]},"legend":null}}},
 {"transform":[{"filter":"!datum.c"}],"mark":{"type":"point","filled":true,"size":60,"stroke":"#222","strokeWidth":0.9,"opacity":1},"encoding":{"fill":{"field":"s","type":"nominal","scale":{"domain":["NTSR1","SSTR2-SST14","SSTR2-Oct","ADBR2"],"range":["#9fe3ea","#d0386c","#a5a5f0","#2a8a8e"]},"legend":null},"shape":{"field":"s","type":"nominal","scale":{"domain":["NTSR1","SSTR2-SST14","SSTR2-Oct","ADBR2"],"range":["triangle-down","square","circle","diamond"]},"legend":null}}}
 ]},
{"title":"Gs","width":176,"height":140,"transform":[{"filter":"datum.p=='Gs'"}],
 "encoding":{"x":{"field":"x","type":"quantitative","scale":{"domain":[-13,-4],"nice":false},"axis":{"values":[-12,-10,-8,-6,-4],"title":"log([agonist]) (M)"}},
 "y":{"field":"y","type":"quantitative","scale":{"domain":[-0.12,0.04],"nice":false},"axis":{"values":[0.04,0,-0.04,-0.08,-0.12],"format":".2f","title":"Net BRET"}}},
 "layer":[
 {"transform":[{"aggregate":[{"op":"count","as":"n"}]}],"mark":{"type":"rule","strokeDash":[2,2],"color":"#000","strokeWidth":1.3},"encoding":{"x":{"datum":-13},"x2":{"datum":-4},"y":{"datum":0}}},
 {"transform":[{"filter":"datum.c"}],"mark":"line","encoding":{"stroke":{"field":"s","type":"nominal","scale":{"domain":["ADBR2","NTSR1","SSTR2-SST14","SSTR2-Oct"],"range":["#86b8ba","#a8e6ec","#e0507c","#a9a9f2"]},"legend":null}}},
 {"transform":[{"filter":"!datum.c"}],"mark":{"type":"errorbar","ticks":true,"color":"#333","size":7,"thickness":1.1},"encoding":{"yError":{"field":"e"}}},
 {"transform":[{"filter":"!datum.c"}],"mark":{"type":"point","filled":true,"size":110,"color":"#999","opacity":0.55,"strokeWidth":0},"encoding":{"shape":{"field":"s","type":"nominal","scale":{"domain":["NTSR1","SSTR2-SST14","SSTR2-Oct","ADBR2"],"range":["triangle-down","square","circle","diamond"]},"legend":null}}},
 {"transform":[{"filter":"!datum.c"}],"mark":{"type":"point","filled":true,"size":60,"stroke":"#222","strokeWidth":0.9,"opacity":1},"encoding":{"fill":{"field":"s","type":"nominal","scale":{"domain":["NTSR1","SSTR2-SST14","SSTR2-Oct","ADBR2"],"range":["#9fe3ea","#d0386c","#a5a5f0","#2a8a8e"]},"legend":null},"shape":{"field":"s","type":"nominal","scale":{"domain":["NTSR1","SSTR2-SST14","SSTR2-Oct","ADBR2"],"range":["triangle-down","square","circle","diamond"]},"legend":null}}}
 ]}
 ]},
{"title":{"text":"b","anchor":"start","frame":"bounds","fontSize":24,"offset":0,"dx":13},
 "width":615,"height":179,
 "data":{"values":[
 {"g":"Gi1","s":"NTSR1","o":"a","v":100,"hi":103},{"g":"Gi1","s":"SSTR2-SST14","o":"b","v":84,"hi":86},{"g":"Gi1","s":"SSTR2-octreotide","o":"c","v":77,"hi":79.5},
 {"g":"Gi2","s":"NTSR1","o":"a","v":100,"hi":102},{"g":"Gi2","s":"SSTR2-SST14","o":"b","v":106,"hi":108},{"g":"Gi2","s":"SSTR2-octreotide","o":"c","v":100,"hi":103},
 {"g":"Gi3","s":"NTSR1","o":"a","v":100,"hi":102},{"g":"Gi3","s":"SSTR2-SST14","o":"b","v":89,"hi":91.5},{"g":"Gi3","s":"SSTR2-octreotide","o":"c","v":83,"hi":86},
 {"g":"GoA","s":"NTSR1","o":"a","v":100,"hi":103.5},{"g":"GoA","s":"SSTR2-SST14","o":"b","v":95,"hi":98},{"g":"GoA","s":"SSTR2-octreotide","o":"c","v":84,"hi":88},
 {"g":"GoB","s":"NTSR1","o":"a","v":100,"hi":102},{"g":"GoB","s":"SSTR2-SST14","o":"b","v":113,"hi":116.5},{"g":"GoB","s":"SSTR2-octreotide","o":"c","v":104,"hi":107.5},
 {"g":"Gz","s":"NTSR1","o":"a","v":100,"hi":103.5},{"g":"Gz","s":"SSTR2-SST14","o":"b","v":91,"hi":93.5},{"g":"Gz","s":"SSTR2-octreotide","o":"c","v":91,"hi":94.5},
 {"g":"Gq","s":"NTSR1","o":"a","v":100,"hi":104},{"g":"Gq","s":"SSTR2-SST14","o":"b","v":3,"hi":4.5},{"g":"Gq","s":"SSTR2-octreotide","o":"c","v":1,"hi":2.2},
 {"g":"G11","s":"NTSR1","o":"a","v":100,"hi":102.5},{"g":"G11","s":"SSTR2-SST14","o":"b","v":4,"hi":5.5},{"g":"G11","s":"SSTR2-octreotide","o":"c","v":3.5,"hi":5},
 {"g":"G15","s":"NTSR1","o":"a","v":100,"hi":105},{"g":"G15","s":"SSTR2-SST14","o":"b","v":48,"hi":54},{"g":"G15","s":"SSTR2-octreotide","o":"c","v":48,"hi":63.5},
 {"g":"G12","s":"NTSR1","o":"a","v":100,"hi":102.5},{"g":"G12","s":"SSTR2-SST14","o":"b","v":15.5,"hi":18},{"g":"G12","s":"SSTR2-octreotide","o":"c","v":23,"hi":32},
 {"g":"G13","s":"NTSR1","o":"a","v":100,"hi":101},{"g":"G13","s":"SSTR2-SST14","o":"b","v":2.2,"hi":4},
 {"g":"Gs","s":"ADBR2","o":"b","v":100,"hi":105}
 ]},
 "layer":[
 {"data":{"values":[{}]},"mark":{"type":"rule","strokeDash":[1.5,1.5],"color":"#555","strokeWidth":0.8},"encoding":{"y":{"datum":100,"type":"quantitative","scale":{"domain":[0,120],"nice":false}}}},
 {"mark":{"type":"bar","stroke":"#333","strokeWidth":1},
  "encoding":{"x":{"field":"g","type":"nominal","scale":{"domain":["Gi1","Gi2","Gi3","GoA","GoB","Gz","Gq","G11","G15","G12","G13","sp","Gs"],"paddingInner":0.32,"paddingOuter":0.25},"axis":{"values":["Gi1","Gi2","Gi3","GoA","GoB","Gz","Gq","G11","G15","G12","G13","Gs"],"title":null,"labelAngle":0,"labelFontSize":13,"labelPadding":3}},
  "xOffset":{"field":"o","type":"nominal","scale":{"domain":["a","b","c"]}},
  "y":{"field":"v","type":"quantitative","scale":{"domain":[0,120],"nice":false},"axis":{"values":[0,50,100],"tickSize":6,"title":"Emax (% control)","titleFontSize":15,"titlePadding":10,"labelFontSize":13}},
  "color":{"field":"s","type":"nominal","scale":{"domain":["NTSR1","SSTR2-SST14","SSTR2-octreotide","ADBR2"],"range":["#a6e2e8","#cc4677","#a9a8f4","#1e8a90"]},"legend":{"orient":"none","legendX":642,"legendY":28,"title":null,"padding":0,"labelFont":"Liberation Sans","labelFontSize":13,"labelFontWeight":"bold","labelColor":"#000","symbolType":"square","symbolSize":150,"rowPadding":8,"labelOffset":9,"symbolStrokeColor":"#333","symbolStrokeWidth":1}}}},
 {"mark":{"type":"rule","color":"#333","strokeWidth":1.1},"encoding":{"x":{"field":"g","type":"nominal"},"xOffset":{"field":"o","type":"nominal"},"y":{"field":"v","type":"quantitative"},"y2":{"field":"hi"}}},
 {"mark":{"type":"tick","color":"#333","size":6,"thickness":1.2},"encoding":{"x":{"field":"g","type":"nominal"},"xOffset":{"field":"o","type":"nominal"},"y":{"field":"hi","type":"quantitative"}}}
 ]}
]}
